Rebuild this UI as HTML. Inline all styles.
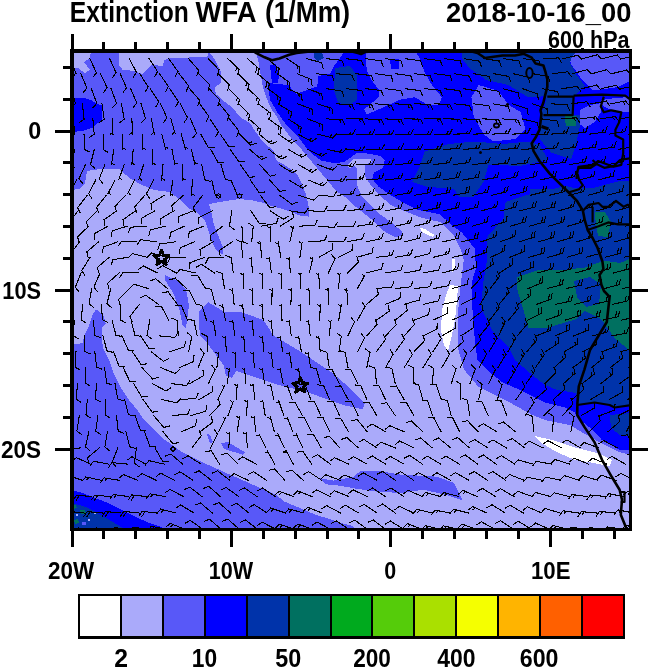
<!DOCTYPE html>
<html><head><meta charset="utf-8"><style>
html,body{margin:0;padding:0;background:#fff;}
svg{display:block;}
text{font-family:"Liberation Sans",Arial,Helvetica,sans-serif;fill:#000;}
.t{font-size:30.2px;font-weight:bold;}
.ax{font-size:22px;font-weight:bold;text-anchor:middle;}
.ay{font-size:22px;font-weight:bold;text-anchor:end;}
.cbl{font-size:21px;font-weight:bold;text-anchor:middle;}
</style></head><body>
<svg width="650" height="667" viewBox="0 0 650 667" shape-rendering="crispEdges">
<defs><clipPath id="mc"><rect x="72.0" y="51.0" width="558.5" height="478.5"/></clipPath></defs>
<g clip-path="url(#mc)">
<rect x="72.0" y="51.0" width="558.5" height="478.5" fill="#AAAAFA"/>
<polygon points="71.0,50.0 208.0,50.0 209.0,51.5 215.0,60.0 221.0,72.5 221.5,82.6 214.6,87.2 215.8,94.0 223.8,101.0 233.0,108.0 240.0,117.0 250.0,123.0 255.0,131.0 263.0,142.0 274.0,151.0 276.0,160.0 287.7,167.0 297.0,174.0 301.5,183.0 306.0,194.6 308.5,206.0 308.5,216.5 299.0,215.4 292.3,212.0 280.8,208.5 271.5,206.0 262.3,202.7 253.0,200.4 239.0,199.0 230.0,200.4 216.0,202.7 209.0,204.0 211.5,213.0 213.8,224.6 218.5,236.0 223.0,247.7 223.0,254.6 216.0,250.0 211.5,240.8 208.0,229.0 204.6,220.0 197.7,213.0 188.5,208.5 179.0,199.0 170.0,192.0 153.7,190.0 140.0,184.0 129.0,177.8 119.0,168.5 100.0,169.0 87.0,171.0 85.0,183.0 80.0,189.0 71.0,190.0" fill="#5858F8"/>
<polygon points="71.0,50.0 91.0,50.0 90.0,58.0 84.0,62.0 90.0,70.0 85.0,73.0 78.0,68.0 71.0,68.0" fill="#AAAAFA"/>
<polygon points="119.0,50.0 210.0,50.0 207.0,57.0 171.0,58.0 164.0,60.0 163.0,66.0 152.0,65.0 142.3,74.0 134.6,71.0 122.3,69.5 119.0,65.0" fill="#AAAAFA"/>
<polygon points="256.0,50.0 256.0,51.5 258.5,61.8 260.8,75.7 263.0,87.2 267.7,101.0 272.3,110.3 277.0,117.0 281.0,125.5 285.0,130.0 292.3,139.8 299.7,147.2 305.8,154.6 312.0,162.0 318.2,169.4 324.3,176.8 330.5,184.2 336.6,191.5 347.7,198.8 355.4,206.5 363.0,212.7 370.8,218.8 378.5,226.5 386.0,232.7 395.4,237.3 401.5,235.8 401.5,231.0 390.8,222.0 380.0,214.2 370.8,205.0 361.5,195.8 357.0,185.0 357.0,168.0 353.8,166.0 349.0,168.5 347.5,165.5 353.8,158.8 370.8,158.8 372.0,162.0 364.6,165.0 364.6,175.8 370.8,185.0 380.0,195.8 390.8,205.0 404.6,211.0 420.0,217.3 432.3,220.4 440.0,222.0 454.0,236.0 461.0,250.0 463.8,260.0 461.2,280.0 458.4,308.0 458.4,350.0 464.0,369.6 478.0,386.4 506.0,400.4 532.3,415.0 544.8,420.0 569.7,425.0 582.2,432.4 599.6,442.4 619.6,452.3 632.0,455.0 632.0,50.0" fill="#5858F8"/>
<polygon points="71.0,345.0 82.6,343.0 84.7,334.6 89.0,326.0 93.0,313.6 96.3,309.4 103.6,315.7 105.7,324.0 101.5,328.3 101.5,338.8 103.6,349.3 110.0,362.0 114.0,374.5 120.4,387.0 128.8,399.7 137.2,410.0 143.5,419.0 150.0,425.5 162.6,438.2 182.0,452.0 204.2,463.0 229.0,474.2 254.0,485.2 276.2,495.0 284.3,501.5 299.0,507.7 313.8,514.0 328.6,518.8 343.4,523.7 353.0,526.0 357.0,531.0 71.0,531.0" fill="#5858F8"/>
<polygon points="165.0,275.0 176.0,280.0 186.0,289.0 189.0,305.5 186.0,328.0 182.6,325.0 179.4,309.0 173.0,292.6 165.0,280.0" fill="#5858F8"/>
<polygon points="198.8,312.0 208.5,302.3 224.6,312.0 240.8,312.0 263.4,320.0 273.2,335.2 286.3,343.0 299.4,351.0 315.0,361.4 330.8,371.8 346.4,385.0 357.0,395.4 364.7,403.2 363.0,408.5 359.5,408.5 346.4,405.8 330.8,400.6 312.4,394.0 299.4,390.0 278.5,385.0 262.8,379.7 247.0,374.5 236.0,371.0 232.0,378.0 226.0,376.0 223.5,365.0 213.0,351.0 205.2,340.5 200.0,335.2 198.8,321.7" fill="#5858F8"/>
<polygon points="207.0,434.0 210.0,435.0 213.0,442.0 210.0,443.0" fill="#5858F8"/>
<polygon points="221.0,443.0 228.0,442.0 236.0,447.0 245.0,452.0 243.0,455.0 234.0,452.0 224.0,449.0" fill="#5858F8"/>
<polygon points="318.8,478.0 333.5,480.6 353.2,477.0 360.6,470.8 377.8,470.8 400.0,474.5 437.0,476.7 454.0,483.0 463.0,500.6 450.0,496.0 424.0,489.7 400.0,493.0 377.8,491.7 358.0,489.0 338.5,485.5 326.0,484.3" fill="#5858F8"/>
<polygon points="268.0,83.0 288.6,85.0 296.0,94.0 310.8,88.6 318.0,84.0 317.0,72.0 335.0,62.0 342.0,50.0 632.0,50.0 632.0,449.8 619.6,449.8 602.0,440.0 589.6,427.4 579.7,419.8 574.7,412.3 564.7,407.4 544.8,402.4 534.8,397.4 520.0,390.0 502.4,382.4 490.0,372.5 477.5,360.0 475.2,344.4 472.4,308.0 472.4,280.0 476.0,268.0 474.6,248.5 462.3,233.0 450.0,223.8 440.0,214.2 432.3,212.7 417.0,209.6 404.6,203.5 389.2,194.2 378.5,186.5 372.3,178.8 373.8,172.7 383.0,168.0 384.6,160.4 380.0,155.8 363.0,152.7 356.3,153.4 351.4,157.0 344.0,162.0 335.4,163.2 321.8,160.8 314.5,155.8 305.8,147.2 298.5,137.4 291.0,130.0 286.8,125.5 277.5,112.6 270.0,99.7" fill="#0000FF"/>
<polygon points="270.0,65.0 276.0,64.0 279.0,75.0 278.0,83.0 272.0,83.0" fill="#0000FF"/>
<polygon points="71.0,97.7 84.0,97.7 90.8,100.0 95.4,103.0 101.5,105.4 102.3,111.5 101.5,120.8 97.0,123.8 92.3,127.7 83.0,130.8 71.0,132.3" fill="#0000FF"/>
<polygon points="366.0,50.0 415.0,50.0 422.0,62.8 424.6,72.6 432.0,85.0 441.8,97.2 439.4,104.6 427.0,104.6 414.8,97.2 400.0,99.7 384.0,107.0 366.6,114.5 364.0,109.5 379.0,97.0 379.0,90.0 371.5,80.0 366.6,70.0" fill="#5858F8"/>
<polygon points="310.0,50.0 345.0,50.0 340.0,58.0 334.0,66.0 330.0,74.0 318.0,76.0 317.0,87.0 310.0,88.0" fill="#5858F8"/>
<polygon points="314.0,53.0 322.0,52.0 324.0,58.0 318.0,61.0 314.0,58.0" fill="#0033AA"/>
<polygon points="569.0,52.0 632.0,52.0 632.0,82.0 627.0,82.5 617.8,87.2 592.8,90.4 581.8,79.4 570.8,63.7 569.0,56.0" fill="#5858F8"/>
<polygon points="478.8,85.0 498.5,91.0 508.3,104.6 520.6,112.0 525.5,129.2 515.7,139.0 493.5,141.5 483.7,134.2 473.8,117.0 471.4,97.2" fill="#5858F8"/>
<polygon points="579.5,110.0 590.0,104.9 602.6,103.0 601.0,112.0 595.0,122.0 585.0,128.0 579.5,124.0" fill="#5858F8"/>
<polygon points="601.0,100.0 615.0,98.0 632.0,97.0 632.0,111.5 615.0,111.5 603.0,106.0" fill="#5858F8"/>
<polygon points="390.0,59.0 398.5,58.6 398.5,68.5 391.0,68.5" fill="#0000FF"/>
<polygon points="335.0,68.0 350.0,66.0 357.0,75.0 357.0,100.0 350.0,105.0 338.0,103.0 334.0,90.0" fill="#0033AA"/>
<polygon points="461.5,50.0 548.0,50.0 548.0,63.0 545.0,70.0 548.0,80.0 548.0,95.0 538.0,97.2 528.0,97.2 508.3,85.0 486.0,80.0 469.0,67.7 461.5,58.0" fill="#0033AA"/>
<polygon points="546.5,95.0 573.6,95.0 573.6,114.8 579.5,114.8 579.5,128.0 576.0,144.5 571.0,159.3 551.5,152.7 540.0,139.5 540.0,114.8 545.0,105.0" fill="#0033AA"/>
<polygon points="546.0,50.0 578.0,50.0 572.0,56.0 570.0,63.0 577.0,75.4 585.0,86.0 575.0,95.0 546.0,95.0" fill="#0033AA"/>
<polygon points="530.0,189.0 632.0,187.0 632.0,200.0 530.0,200.0" fill="#0033AA"/>
<polygon points="424.6,151.4 449.0,144.0 473.8,141.5 503.4,144.0 528.0,141.5 540.0,145.0 548.0,160.0 520.0,166.0 488.5,164.6 483.5,182.0 473.7,196.6 459.0,196.6 454.0,189.0 427.0,186.8 412.0,182.0 419.5,167.0" fill="#0033AA"/>
<polygon points="487.0,237.2 503.4,218.5 505.7,202.0 526.8,195.0 550.0,190.4 564.0,185.7 585.0,190.4 601.6,185.7 620.3,181.0 632.0,181.0 632.0,405.0 614.6,407.5 609.6,405.0 594.6,402.5 577.2,405.0 576.0,393.0 557.2,390.0 544.8,385.0 532.3,375.0 514.9,360.0 508.8,347.2 492.0,330.4 480.8,308.0 483.6,280.0 487.0,260.0" fill="#0033AA"/>
<polygon points="609.6,415.0 632.0,413.0 632.0,437.0 620.0,435.0 611.0,428.0" fill="#0033AA"/>
<polygon points="517.4,277.0 538.5,270.0 562.0,270.0 585.0,267.6 604.0,260.6 620.3,263.0 632.0,258.0 632.0,350.0 629.2,350.0 615.2,338.8 601.2,319.2 584.4,310.8 576.0,319.2 548.0,327.6 528.4,327.6 522.8,308.0 517.4,290.0" fill="#007060"/>
<polygon points="574.0,281.0 590.0,277.0 601.0,284.0 599.0,304.0 586.0,307.0 577.0,297.0" fill="#0033AA"/>
<polygon points="564.6,116.4 576.0,116.4 576.0,126.3 566.0,126.0" fill="#007060"/>
<polygon points="594.6,211.5 605.0,212.0 611.0,222.0 608.0,237.0 598.0,236.0 596.0,225.0" fill="#007060"/>
<polygon points="419.5,227.4 425.0,229.0 434.3,235.0 433.0,237.2 422.0,232.0" fill="#FFFFFF"/>
<polygon points="452.0,259.0 455.0,259.0 455.0,270.0 452.0,272.0" fill="#FFFFFF"/>
<polygon points="450.0,285.0 458.0,286.0 457.0,300.0 455.0,320.0 452.0,335.0 448.0,351.0 444.0,345.0 441.0,330.0 442.0,310.0 446.0,295.0" fill="#FFFFFF"/>
<polygon points="534.8,436.0 552.3,440.0 574.7,447.4 599.6,453.6 612.0,459.8 609.6,466.0 589.6,462.3 574.7,459.8 557.2,452.3 542.3,443.6" fill="#FFFFFF"/>
<polygon points="71.0,490.5 81.0,492.3 92.2,497.0 107.0,502.5 118.0,508.0 129.0,513.5 140.0,519.0 151.2,523.7 162.3,527.4 168.0,531.0 71.0,531.0" fill="#0000FF"/>
<polygon points="71.0,502.5 88.5,508.0 101.4,515.4 114.3,522.8 123.5,528.3 125.0,531.0 71.0,531.0" fill="#0033AA"/>
<polygon points="72.0,505.0 76.0,505.0 77.0,508.0 72.0,509.0" fill="#007060"/>
<polygon points="80.0,510.0 85.0,510.0 86.0,513.0 81.0,514.0" fill="#007060"/>
<polygon points="74.0,520.0 78.0,519.0 79.0,523.0 75.0,524.0" fill="#007060"/>
<polygon points="76.0,514.0 78.0,514.0 78.0,516.0 76.0,516.0" fill="#AAAAFA"/>
<polygon points="88.0,519.0 90.0,519.0 90.0,521.0 88.0,521.0" fill="#AAAAFA"/>
<polygon points="94.0,512.0 95.5,512.0 95.5,513.5 94.0,513.5" fill="#AAAAFA"/>
<polygon points="82.0,522.0 86.0,522.0 86.0,525.0 82.0,525.0" fill="#5858F8"/>
<g shape-rendering="auto"><path d="M254.8 52.4 L264.6 57.3 L272.0 60.3 L279.4 58.5 L289.2 54.8 L296.6 52.9 L310.0 51.5 M352.0 51.5 L358.0 53.0 L361.0 54.0 L365.0 52.0 L372.0 51.5 M470.0 51.0 L477.5 53.0 L485.0 58.0 L502.4 55.5 L515.0 55.5 L523.9 53.8 L531.7 57.7 L535.6 63.6 L543.4 65.5 L545.3 71.4 L547.3 79.2 L547.3 87.0 L545.3 94.7 L543.4 102.5 L540.5 110.3 L541.4 114.2 L540.5 122.0 L539.5 129.8 L535.6 137.6 L531.7 143.4 L533.6 151.2 L539.5 161.0 L549.7 173.6 L559.5 183.4 L569.2 193.0 L577.0 201.0 L582.9 210.7 L584.8 220.4 L587.8 230.2 L592.6 238.0 L597.5 247.7 L602.4 261.4 L603.4 269.2 L599.5 275.0 L601.4 284.8 L604.0 291.0 L609.6 296.8 L606.8 322.0 L598.4 336.0 L590.0 350.0 L584.4 369.6 L578.8 386.4 L577.4 403.2 L577.2 415.0 L584.7 427.4 L594.6 442.4 L602.0 459.8 L612.0 477.3 L619.6 489.7 L622.0 499.7 L620.8 514.7 L625.8 527.0 L627.0 531.0" stroke="#000" stroke-width="2.6" fill="none" stroke-linejoin="round"/><path d="M547.3 96.7 L573.6 96.7 L572.6 115.2 L543.4 115.2 M573.6 95.7 L601.8 94.7 L625.2 95.7 L629.0 98.6 L632.0 98.0 M603.8 96.7 L600.8 106.4 L603.8 112.3 L611.5 110.3 L621.3 112.3 L619.3 122.0 L615.4 129.8 L615.4 135.6 L623.2 139.5 L623.2 153.2 L621.3 164.9 L613.5 166.8 L598.0 161.0 L594.0 164.9 L578.4 166.8 L576.5 178.0 L577.0 171.7 L579.0 179.5 L582.9 185.3 L579.0 189.2 L569.2 192.2 M592.6 160.0 L596.5 164.0 L590.7 167.8 L579.0 167.8 L577.0 171.7 M596.5 164.0 L604.3 167.8 L614.0 165.8 L620.0 160.0 L632.0 158.0 M582.9 210.7 L588.7 204.8 L598.5 203.0 L602.4 206.8 L608.2 206.8 L616.0 201.0 L623.8 206.8 L627.7 204.8 L632.0 206.0 M586.8 230.2 L598.5 226.3 L608.2 222.4 L618.0 224.3 L632.0 224.3 M592.6 206.8 L592.6 222.4 M577.2 405.0 L594.6 402.5 L609.6 405.0 L614.6 407.5 L632.0 405.0 M620.8 492.0 L624.5 492.0 L624.5 502.0 L620.8 502.0" stroke="#000" stroke-width="2.2" fill="none" stroke-linejoin="round"/><ellipse cx="529.5" cy="73" rx="3.2" ry="5" fill="none" stroke="#000" stroke-width="2"/><ellipse cx="507.5" cy="104.5" rx="1.6" ry="1.6" fill="#000"/><ellipse cx="496.5" cy="125.5" rx="2.6" ry="2" fill="none" stroke="#000" stroke-width="1.8"/><ellipse cx="480.5" cy="152.5" rx="1.4" ry="1.6" fill="#000"/><path d="M541.5 126.5 L548.5 129" stroke="#000" stroke-width="3"/></g>
<g shape-rendering="crispEdges"><path d="M50.6 58.7L54.9 73.6M54.9 73.6l-4.0 3.9M70.3 58.7L75.9 73.2M75.9 73.2l-3.7 4.2M90.0 58.7L96.4 72.8M96.4 72.8l-3.4 4.4M109.7 58.7L116.1 72.8M116.1 72.8l-3.4 4.4M129.4 58.7L136.5 72.5M136.5 72.5l-3.2 4.6M149.1 58.7L157.6 71.6M157.6 71.6l-2.7 4.9M168.8 58.7L177.8 71.4M177.8 71.4l-2.5 5.0M188.5 58.7L198.8 70.3M198.8 70.3l-1.9 5.3M208.2 58.7L219.0 69.8M219.0 69.8l-1.7 5.3M227.9 58.7L239.0 69.5M239.0 69.5l-1.6 5.4M236.8 67.4l-0.8 2.9M247.6 58.7L259.2 68.9M259.2 68.9l-1.3 5.4M257.0 67.0l-1.3 5.4M267.3 58.7L279.2 68.7M279.2 68.7l-1.2 5.5M276.9 66.7l-1.2 5.5M287.0 58.7L299.9 67.2M299.9 67.2l-0.5 5.6M297.4 65.6l-0.3 3.0M306.7 58.7L321.7 62.7M321.7 62.7l1.3 5.5M326.4 58.7L341.8 60.3M341.8 60.3l2.1 5.2M346.1 58.7L361.5 60.5M361.5 60.5l2.0 5.2M365.8 58.7L381.1 60.9M381.1 60.9l1.9 5.3M385.5 58.7L400.9 60.8M400.9 60.8l1.9 5.3M405.2 58.7L420.6 60.8M420.6 60.8l1.9 5.3M424.9 58.7L440.3 60.7M440.3 60.7l2.0 5.2M444.6 58.7L460.0 60.8M460.0 60.8l1.9 5.3M464.3 58.7L479.6 61.2M479.6 61.2l1.8 5.3M484.0 58.7L499.3 61.1M499.3 61.1l1.8 5.3M503.7 58.7L519.0 61.0M519.0 61.0l1.9 5.3M523.4 58.7L538.8 60.5M538.8 60.5l2.0 5.2M543.1 58.7L558.6 57.9M558.6 57.9l2.9 4.8M562.8 58.7L577.9 55.2M577.9 55.2l3.7 4.2M582.5 58.7L597.5 54.7M597.5 54.7l3.8 4.1M602.2 58.7L617.2 55.0M617.2 55.0l3.7 4.2M621.9 58.7L637.0 55.3M637.0 55.3l3.6 4.3M641.6 58.7L656.8 55.6M656.8 55.6l3.6 4.3M61.2 73.7L65.6 88.6M65.6 88.6l-4.0 3.9M80.9 73.7L86.9 88.0M86.9 88.0l-3.5 4.4M100.5 73.7L107.1 87.7M107.1 87.7l-3.4 4.5M120.2 73.7L126.5 87.8M126.5 87.8l-3.4 4.4M139.8 73.7L148.1 86.8M148.1 86.8l-2.8 4.9M159.5 73.7L168.4 86.4M168.4 86.4l-2.5 5.0M179.1 73.7L188.7 85.9M188.7 85.9l-2.3 5.1M198.8 73.7L209.7 84.7M209.7 84.7l-1.6 5.4M218.4 73.7L229.3 84.7M229.3 84.7l-1.7 5.3M238.1 73.7L249.1 84.6M249.1 84.6l-1.6 5.4M246.9 82.5l-0.9 2.9M257.7 73.7L269.4 83.9M269.4 83.9l-1.3 5.5M267.1 81.9l-1.3 5.5M277.4 73.7L289.9 82.8M289.9 82.8l-0.8 5.5M287.5 81.1l-0.4 3.0M297.0 73.7L311.4 79.5M311.4 79.5l0.6 5.6M308.6 78.4l0.3 3.0M316.7 73.7L332.1 75.7M332.1 75.7l1.9 5.2M336.3 73.7L351.8 75.1M351.8 75.1l2.2 5.2M356.0 73.7L371.4 75.6M371.4 75.6l2.0 5.2M375.6 73.7L391.0 75.8M391.0 75.8l1.9 5.3M395.3 73.7L410.7 75.8M410.7 75.8l1.9 5.3M415.0 73.7L430.3 75.8M430.3 75.8l1.9 5.3M434.6 73.7L450.0 75.6M450.0 75.6l2.0 5.2M454.3 73.7L469.5 76.2M469.5 76.2l1.8 5.3M473.9 73.7L489.2 76.4M489.2 76.4l1.7 5.3M493.6 73.7L508.8 76.4M508.8 76.4l1.7 5.3M513.2 73.7L528.3 77.3M528.3 77.3l1.4 5.4M532.9 73.7L548.1 76.4M548.1 76.4l1.7 5.3M552.5 73.7L567.9 71.8M567.9 71.8l3.2 4.6M572.2 73.7L587.2 69.7M587.2 69.7l3.8 4.1M591.8 73.7L606.8 69.7M606.8 69.7l3.8 4.1M611.5 73.7L626.6 70.1M626.6 70.1l3.7 4.2M631.1 73.7L646.3 70.5M646.3 70.5l3.6 4.3M52.2 88.7L54.7 104.0M54.7 104.0l-4.5 3.4M71.8 88.7L75.5 103.8M75.5 103.8l-4.2 3.7M91.4 88.7L96.8 103.3M96.8 103.3l-3.7 4.2M111.1 88.7L116.5 103.2M116.5 103.2l-3.7 4.2M130.7 88.7L136.8 103.0M136.8 103.0l-3.5 4.4M150.3 88.7L158.7 101.7M158.7 101.7l-2.7 4.9M169.9 88.7L178.5 101.6M178.5 101.6l-2.6 4.9M189.5 88.7L199.8 100.3M199.8 100.3l-1.9 5.3M209.1 88.7L219.8 99.9M219.8 99.9l-1.7 5.3M228.7 88.7L239.6 99.7M239.6 99.7l-1.7 5.3M237.5 97.6l-0.9 2.9M248.3 88.7L259.4 99.5M259.4 99.5l-1.5 5.4M257.3 97.4l-0.8 2.9M267.9 88.7L280.4 97.9M280.4 97.9l-0.8 5.5M277.9 96.1l-0.4 3.0M287.5 88.7L301.7 94.9M301.7 94.9l0.4 5.6M298.9 93.7l0.2 3.0M307.1 88.7L321.7 93.9M321.7 93.9l0.8 5.5M318.9 92.9l0.5 3.0M326.7 88.7L342.0 91.2M342.0 91.2l1.8 5.3M346.3 88.7L361.7 90.5M361.7 90.5l2.0 5.2M365.9 88.7L381.3 90.5M381.3 90.5l2.0 5.2M385.5 88.7L400.9 90.6M400.9 90.6l2.0 5.2M405.1 88.7L420.5 90.6M420.5 90.6l2.0 5.2M424.7 88.7L440.1 90.2M440.1 90.2l2.1 5.2M444.3 88.7L459.7 90.7M459.7 90.7l2.0 5.2M463.9 88.7L479.2 91.3M479.2 91.3l1.8 5.3M483.5 88.7L498.8 91.3M498.8 91.3l1.8 5.3M503.1 88.7L518.1 92.9M518.1 92.9l1.2 5.5M522.7 88.7L537.4 93.8M537.4 93.8l0.9 5.5M542.3 88.7L557.6 91.6M557.6 91.6l1.7 5.3M561.9 88.7L577.3 86.4M577.3 86.4l3.3 4.5M581.5 88.7L596.6 85.1M596.6 85.1l3.7 4.2M601.1 88.7L616.2 85.3M616.2 85.3l3.7 4.2M620.7 88.7L635.9 85.6M635.9 85.6l3.6 4.3M640.3 88.7L655.5 85.6M655.5 85.6l3.6 4.3M652.6 86.2l1.9 2.3M43.3 103.8L44.3 119.3M44.3 119.3l-4.8 2.9M62.9 103.8L64.3 119.2M64.3 119.2l-4.7 3.1M82.4 103.8L84.1 119.2M84.1 119.2l-4.6 3.1M102.0 103.8L104.2 119.1M104.2 119.1l-4.5 3.3M121.5 103.8L124.2 119.1M124.2 119.1l-4.4 3.4M141.1 103.8L145.6 118.6M145.6 118.6l-4.0 3.9M160.6 103.8L167.0 117.9M167.0 117.9l-3.4 4.4M180.2 103.8L187.5 117.5M187.5 117.5l-3.1 4.7M199.7 103.8L208.9 116.3M208.9 116.3l-2.4 5.0M219.3 103.8L229.2 115.7M229.2 115.7l-2.1 5.2M238.9 103.8L249.8 114.7M249.8 114.7l-1.6 5.4M247.7 112.6l-0.9 2.9M258.4 103.8L270.7 113.3M270.7 113.3l-1.0 5.5M268.3 111.5l-0.5 3.0M278.0 103.8L291.2 111.9M291.2 111.9l-0.3 5.6M288.6 110.3l-0.2 3.0M297.5 103.8L312.1 109.2M312.1 109.2l0.8 5.5M309.3 108.1l0.4 3.0M317.1 103.8L331.9 108.3M331.9 108.3l1.1 5.5M329.0 107.4l0.6 2.9M336.6 103.8L352.1 104.8M352.1 104.8l2.3 5.1M349.1 104.6l1.2 2.7M356.2 103.8L371.7 104.8M371.7 104.8l2.3 5.1M368.7 104.6l1.2 2.7M375.7 103.8L391.2 105.2M391.2 105.2l2.2 5.2M388.2 104.9l1.2 2.8M395.3 103.8L410.8 104.9M410.8 104.9l2.3 5.1M407.8 104.7l1.2 2.7M414.9 103.8L430.3 104.4M430.3 104.4l2.4 5.0M427.3 104.3l1.3 2.7M434.4 103.8L449.9 104.5M449.9 104.5l2.4 5.1M446.9 104.4l1.3 2.7M454.0 103.8L469.4 105.4M469.4 105.4l2.1 5.2M473.5 103.8L488.9 105.8M488.9 105.8l2.0 5.2M493.1 103.8L508.3 106.5M508.3 106.5l1.7 5.3M512.6 103.8L527.3 108.9M527.3 108.9l0.8 5.5M532.2 103.8L546.9 108.7M546.9 108.7l0.9 5.5M551.7 103.8L567.2 105.0M567.2 105.0l2.3 5.1M571.3 103.8L586.7 101.8M586.7 101.8l3.3 4.6M590.9 103.8L606.1 101.1M606.1 101.1l3.5 4.4M610.4 103.8L625.6 101.0M625.6 101.0l3.5 4.4M622.7 101.5l1.9 2.3M630.0 103.8L645.2 100.9M645.2 100.9l3.5 4.4M642.2 101.4l1.9 2.3M649.5 103.8L664.7 100.7M664.7 100.7l3.6 4.3M661.8 101.3l1.9 2.3M53.9 118.9L54.3 134.4M54.3 134.4l-4.9 2.8M73.4 118.9L74.6 134.4M74.6 134.4l-4.7 3.0M92.9 118.9L94.2 134.4M94.2 134.4l-4.7 3.0M112.4 118.9L113.0 134.4M112.9 132.6l-2.6 1.5M131.9 118.9L132.4 134.4M132.4 132.6l-2.6 1.5M151.4 118.9L154.2 134.2M153.9 132.4l-2.4 1.9M170.9 118.9L175.2 133.8M174.7 132.1l-2.2 2.1M190.4 118.9L196.6 133.2M196.6 133.2l-3.5 4.4M209.9 118.9L218.5 131.8M218.5 131.8l-2.7 4.9M229.4 118.9L239.1 131.1M239.1 131.1l-2.2 5.1M249.0 118.9L260.6 129.2M260.6 129.2l-1.3 5.5M258.3 127.2l-0.7 2.9M268.5 118.9L281.1 127.9M281.1 127.9l-0.7 5.6M278.7 126.1l-0.4 3.0M288.0 118.9L301.1 127.2M301.1 127.2l-0.4 5.6M298.5 125.6l-0.2 3.0M307.5 118.9L322.0 124.4M322.0 124.4l0.7 5.6M319.2 123.3l0.4 3.0M327.0 118.9L342.5 119.7M342.5 119.7l2.4 5.1M339.5 119.6l1.3 2.7M346.5 118.9L362.0 119.0M362.0 119.0l2.6 5.0M359.0 119.0l1.4 2.7M366.0 118.9L381.5 119.7M381.5 119.7l2.4 5.1M378.5 119.6l1.3 2.7M385.5 118.9L401.0 119.6M401.0 119.6l2.4 5.1M398.0 119.5l1.3 2.7M405.0 118.9L420.5 119.1M420.5 119.1l2.6 5.0M417.5 119.0l1.4 2.7M424.5 118.9L440.0 119.0M440.0 119.0l2.6 4.9M437.0 119.0l1.4 2.7M444.0 118.9L459.5 119.1M459.5 119.1l2.6 5.0M456.5 119.1l1.4 2.7M463.5 118.9L479.0 119.5M479.0 119.5l2.4 5.0M476.0 119.4l1.3 2.7M483.0 118.9L498.5 119.4M498.5 119.4l2.5 5.0M495.5 119.3l1.3 2.7M502.5 118.9L518.0 120.1M518.0 120.1l2.2 5.1M515.0 119.9l1.2 2.7M522.0 118.9L537.1 122.5M537.1 122.5l1.4 5.4M541.6 118.9L556.9 120.9M556.9 120.9l2.0 5.2M561.1 118.9L576.5 117.7M576.5 117.7l3.0 4.7M573.5 117.9l1.6 2.5M580.6 118.9L595.9 116.8M595.9 116.8l3.3 4.5M593.0 117.2l1.8 2.4M600.1 118.9L615.4 116.6M615.4 116.6l3.3 4.5M612.4 117.1l1.8 2.4M619.6 118.9L634.9 116.3M634.9 116.3l3.4 4.4M631.9 116.8l1.8 2.4M639.1 118.9L654.3 115.9M654.3 115.9l3.5 4.3M651.4 116.5l1.9 2.3M45.0 134.1L43.5 149.6M43.5 149.6l4.7 3.1M64.5 134.1L64.2 149.6M64.2 149.6l4.9 2.7M84.0 134.1L84.7 149.6M84.7 149.6l5.1 2.4M103.4 134.1L103.1 149.6M103.1 149.6l4.9 2.7M122.9 134.1L122.8 149.6M122.8 147.8l2.6 1.4M142.3 134.1L142.6 149.6M142.5 147.8l2.7 1.4M161.8 134.1L165.5 149.2M165.1 147.4l2.9 0.7M181.3 134.1L185.3 149.1M184.8 147.4l2.9 0.7M200.7 134.1L208.4 147.6M208.4 147.6l5.6 -0.2M220.2 134.1L229.0 146.8M229.0 146.8l5.6 -0.7M239.6 134.1L250.7 145.0M250.7 145.0l5.3 -1.7M248.5 142.9l2.9 -0.9M259.1 134.1L271.0 144.0M271.0 144.0l5.2 -2.1M268.7 142.1l2.8 -1.1M278.5 134.1L291.3 143.0M291.3 143.0l5.0 -2.6M288.8 141.2l2.7 -1.4M298.0 134.1L311.6 141.6M311.6 141.6l4.7 -3.1M309.0 140.1l2.5 -1.6M317.5 134.1L332.5 138.0M332.5 138.0l3.8 -4.1M329.6 137.2l2.0 -2.2M336.9 134.1L352.4 134.7M352.4 134.7l2.8 -4.8M349.4 134.6l1.5 -2.6M356.4 134.1L371.9 134.7M371.9 134.7l2.8 -4.8M368.9 134.6l1.5 -2.6M375.8 134.1L391.3 134.7M391.3 134.7l2.8 -4.8M388.3 134.6l1.5 -2.6M395.3 134.1L410.8 134.2M410.8 134.2l2.6 -4.9M407.8 134.2l1.4 -2.6M414.8 134.1L430.3 134.1M430.3 134.1l2.6 -4.9M427.3 134.1l1.4 -2.6M434.2 134.1L449.7 134.1M449.7 134.1l2.6 -5.0M446.7 134.1l1.4 -2.7M453.7 134.1L469.2 133.8M469.2 133.8l2.5 -5.0M466.2 133.9l1.4 -2.7M473.1 134.1L488.6 133.7M488.6 133.7l2.5 -5.0M485.6 133.8l1.3 -2.7M492.6 134.1L508.1 133.4M508.1 133.4l2.4 -5.1M505.1 133.5l1.3 -2.7M512.1 134.1L527.5 133.6M527.5 133.6l2.5 -5.0M524.5 133.7l1.3 -2.7M531.5 134.1L547.0 134.5M547.0 134.5l2.7 -4.9M544.0 134.4l1.5 -2.6M551.0 134.1L566.4 132.9M566.4 132.9l2.2 -5.1M563.4 133.1l1.2 -2.8M570.4 134.1L585.8 132.0M585.8 132.0l1.9 -5.3M582.8 132.4l1.0 -2.8M589.9 134.1L605.2 132.0M605.2 132.0l1.9 -5.3M602.3 132.4l1.0 -2.8M609.3 134.1L624.7 131.7M624.7 131.7l1.8 -5.3M621.7 132.2l1.0 -2.8M628.8 134.1L644.0 131.2M644.0 131.2l1.7 -5.3M641.1 131.8l0.9 -2.9M648.3 134.1L663.4 130.8M663.4 130.8l1.5 -5.4M660.5 131.5l0.8 -2.9M55.5 149.4L51.8 164.4M51.8 164.4l4.2 3.7M74.9 149.4L70.9 164.3M70.9 164.3l4.1 3.8M94.3 149.4L90.5 164.4M90.5 164.4l4.1 3.8M113.8 149.4L111.5 164.7M111.8 162.9l2.4 1.8M133.2 149.4L131.8 164.8M132.0 163.0l2.5 1.6M152.6 149.4L152.8 164.9M152.8 163.1l2.7 1.4M172.0 149.4L174.9 164.6M174.6 162.8l2.9 0.9M191.4 149.4L194.9 164.5M194.5 162.7l2.9 0.8M210.8 149.4L218.3 162.9M218.3 162.9l5.6 -0.1M230.2 149.4L239.2 162.0M239.2 162.0l5.6 -0.7M249.6 149.4L261.4 159.4M261.4 159.4l5.2 -2.1M259.1 157.5l2.8 -1.1M269.0 149.4L281.2 159.0M281.2 159.0l5.1 -2.3M278.9 157.1l2.7 -1.2M288.4 149.4L301.8 157.2M301.8 157.2l4.8 -2.9M299.2 155.7l2.6 -1.6M307.9 149.4L321.7 156.4M321.7 156.4l4.6 -3.2M319.0 155.0l2.5 -1.7M327.3 149.4L342.4 152.8M342.4 152.8l3.6 -4.2M339.5 152.1l2.0 -2.3M346.7 149.4L362.1 150.6M362.1 150.6l3.0 -4.7M359.1 150.4l1.6 -2.5M366.1 149.4L381.6 149.8M381.6 149.8l2.8 -4.9M378.6 149.7l1.5 -2.6M385.5 149.4L401.0 149.1M401.0 149.1l2.6 -5.0M398.0 149.2l1.4 -2.7M404.9 149.4L420.4 149.0M420.4 149.0l2.5 -5.0M417.4 149.1l1.3 -2.7M424.3 149.4L439.8 149.0M439.8 149.0l2.5 -5.0M436.8 149.1l1.3 -2.7M443.7 149.4L459.2 148.5M459.2 148.5l2.3 -5.1M456.2 148.7l1.3 -2.7M463.1 149.4L478.6 148.3M478.6 148.3l2.3 -5.1M475.6 148.5l1.2 -2.7M482.6 149.4L498.0 148.5M498.0 148.5l2.3 -5.1M495.0 148.7l1.3 -2.7M502.0 149.4L517.4 148.5M517.4 148.5l2.4 -5.1M514.4 148.7l1.3 -2.7M521.4 149.4L536.8 148.5M536.8 148.5l2.3 -5.1M533.9 148.6l1.3 -2.7M540.8 149.4L556.2 147.9M556.2 147.9l2.2 -5.2M553.2 148.2l1.2 -2.8M560.2 149.4L575.5 147.2M575.5 147.2l1.9 -5.3M572.6 147.6l1.0 -2.8M579.6 149.4L595.0 147.2M595.0 147.2l1.9 -5.3M592.0 147.6l1.0 -2.8M599.0 149.4L614.3 147.0M614.3 147.0l1.8 -5.3M611.4 147.5l1.0 -2.8M618.4 149.4L633.7 146.5M633.7 146.5l1.7 -5.3M630.7 147.0l0.9 -2.9M637.8 149.4L653.0 146.0M653.0 146.0l1.5 -5.4M650.0 146.7l0.8 -2.9M46.8 164.6L41.4 179.2M41.4 179.2l3.7 4.2M66.1 164.6L60.0 178.9M60.0 178.9l3.5 4.4M85.5 164.6L79.0 178.7M79.0 178.7l3.4 4.5M104.9 164.6L99.1 179.0M99.1 179.0l3.6 4.3M124.2 164.6L118.9 179.2M119.6 177.5l2.0 2.2M143.6 164.6L138.9 179.4M139.4 177.7l2.1 2.1M163.0 164.6L161.6 180.1M161.8 178.3l2.5 1.6M182.3 164.6L182.3 180.1M182.3 178.3l2.6 1.4M201.7 164.6L204.8 179.8M204.8 179.8l5.4 1.6M221.0 164.6L225.4 179.5M225.4 179.5l5.5 1.1M240.4 164.6L249.3 177.4M249.3 177.4l5.6 -0.7M259.8 164.6L270.1 176.2M270.1 176.2l5.4 -1.4M279.1 164.6L292.3 172.8M292.3 172.8l4.8 -2.8M289.7 171.2l2.6 -1.5M298.5 164.6L311.9 172.4M311.9 172.4l4.7 -3.0M309.3 170.9l2.5 -1.6M317.9 164.6L332.3 170.2M332.3 170.2l4.2 -3.7M329.5 169.1l2.3 -2.0M337.2 164.6L352.6 166.3M352.6 166.3l3.2 -4.6M349.6 166.0l1.7 -2.5M356.6 164.6L372.1 164.7M372.1 164.7l2.6 -4.9M369.1 164.7l1.4 -2.6M375.9 164.6L391.4 164.0M391.4 164.0l2.4 -5.1M388.4 164.1l1.3 -2.7M395.3 164.6L410.7 163.4M410.7 163.4l2.2 -5.1M407.8 163.6l1.2 -2.8M414.7 164.6L430.1 162.9M430.1 162.9l2.1 -5.2M427.1 163.3l1.1 -2.8M434.0 164.6L449.4 162.6M449.4 162.6l2.0 -5.2M446.4 163.0l1.0 -2.8M453.4 164.6L468.8 162.6M468.8 162.6l2.0 -5.2M465.8 163.0l1.1 -2.8M472.7 164.6L488.1 162.9M488.1 162.9l2.1 -5.2M485.2 163.2l1.1 -2.8M492.1 164.6L507.5 163.2M507.5 163.2l2.2 -5.2M504.6 163.5l1.2 -2.8M511.5 164.6L526.9 162.9M526.9 162.9l2.1 -5.2M523.9 163.2l1.1 -2.8M530.8 164.6L546.2 162.3M546.2 162.3l1.9 -5.3M543.2 162.8l1.0 -2.8M550.2 164.6L565.5 162.1M565.5 162.1l1.8 -5.3M562.5 162.6l1.0 -2.8M569.6 164.6L584.8 162.1M584.8 162.1l1.8 -5.3M581.9 162.6l1.0 -2.8M588.9 164.6L604.2 161.9M604.2 161.9l1.7 -5.3M601.2 162.4l0.9 -2.9M608.3 164.6L623.4 161.4M623.4 161.4l1.5 -5.4M620.5 162.0l0.8 -2.9M627.6 164.6L642.7 161.1M642.7 161.1l1.4 -5.4M639.8 161.8l0.8 -2.9M647.0 164.6L662.0 160.9M662.0 160.9l1.4 -5.4M659.1 161.6l0.7 -2.9M57.2 180.0L50.3 193.8M50.3 193.8l3.3 4.6M76.5 180.0L69.4 193.8M69.4 193.8l3.2 4.6M95.8 180.0L88.6 193.7M88.6 193.7l3.1 4.6M115.1 180.0L107.9 193.7M108.8 192.1l1.7 2.5M134.4 180.0L127.7 193.9M128.5 192.3l1.8 2.4M153.7 180.0L146.5 193.6M146.5 193.6l3.1 4.6M173.0 180.0L170.2 195.2M170.5 193.4l2.3 1.9M192.4 180.0L191.4 195.4M191.5 193.6l2.6 1.6M211.7 180.0L215.3 195.0M215.3 195.0l5.4 1.4M231.0 180.0L237.0 194.3M237.0 194.3l5.6 0.5M250.3 180.0L259.2 192.7M259.2 192.7l5.6 -0.7M269.6 180.0L280.0 191.5M280.0 191.5l5.4 -1.4M288.9 180.0L302.2 188.0M302.2 188.0l4.8 -2.9M299.6 186.4l2.6 -1.5M308.2 180.0L322.6 185.8M322.6 185.8l4.3 -3.6M319.8 184.7l2.3 -1.9M327.6 180.0L343.0 181.2M343.0 181.2l3.0 -4.7M340.0 181.0l1.6 -2.5M346.9 180.0L362.3 178.9M362.3 178.9l2.3 -5.1M359.3 179.1l1.2 -2.7M366.2 180.0L381.6 178.7M381.6 178.7l2.2 -5.1M378.6 178.9l1.2 -2.8M385.5 180.0L400.9 178.2M400.9 178.2l2.1 -5.2M397.9 178.6l1.1 -2.8M404.8 180.0L420.1 177.6M420.1 177.6l1.8 -5.3M417.2 178.1l1.0 -2.8M424.1 180.0L439.4 177.3M439.4 177.3l1.7 -5.3M436.4 177.8l1.7 -5.3M443.4 180.0L458.7 177.3M458.7 177.3l1.7 -5.3M455.8 177.8l1.7 -5.3M462.8 180.0L478.0 177.3M478.0 177.3l1.7 -5.3M475.1 177.8l0.9 -2.9M482.1 180.0L497.3 177.3M497.3 177.3l1.7 -5.3M494.4 177.8l0.9 -2.9M501.4 180.0L516.6 176.9M516.6 176.9l1.6 -5.4M513.6 177.5l1.6 -5.4M520.7 180.0L535.8 176.5M535.8 176.5l1.5 -5.4M532.9 177.2l1.5 -5.4M540.0 180.0L555.1 176.6M555.1 176.6l1.5 -5.4M552.2 177.2l1.5 -5.4M559.3 180.0L574.5 176.7M574.5 176.7l1.5 -5.4M571.5 177.3l0.8 -2.9M578.6 180.0L593.7 176.4M593.7 176.4l1.4 -5.4M590.8 177.1l0.8 -2.9M598.0 180.0L613.0 176.1M613.0 176.1l1.3 -5.4M610.1 176.9l0.7 -2.9M617.3 180.0L632.3 176.1M632.3 176.1l1.3 -5.4M629.4 176.8l0.7 -2.9M636.6 180.0L651.6 176.0M651.6 176.0l1.3 -5.4M648.7 176.8l0.7 -2.9M48.5 195.3L41.0 208.9M41.0 208.9l3.1 4.7M67.8 195.3L59.3 208.3M59.3 208.3l2.7 4.9M87.1 195.3L77.7 207.7M77.7 207.7l2.4 5.1M106.3 195.3L96.6 207.4M96.6 207.4l2.2 5.2M125.6 195.3L114.9 206.5M114.9 206.5l1.7 5.3M144.8 195.3L134.6 206.9M134.6 206.9l2.0 5.2M164.1 195.3L151.0 203.5M151.0 203.5l0.4 5.6M183.4 195.3L171.7 205.6M171.7 205.6l1.3 5.4M202.6 195.3L193.2 207.6M193.2 207.6l2.3 5.1M260.4 195.3L269.8 207.7M269.8 207.7l5.5 -0.9M279.7 195.3L292.2 204.5M292.2 204.5l5.0 -2.4M299.0 195.3L313.7 200.1M313.7 200.1l4.0 -3.9M318.2 195.3L333.7 196.4M333.7 196.4l3.0 -4.8M337.5 195.3L352.9 193.9M352.9 193.9l2.2 -5.2M350.0 194.2l1.2 -2.8M356.8 195.3L372.2 193.7M372.2 193.7l2.1 -5.2M369.2 194.0l1.1 -2.8M376.0 195.3L391.4 193.5M391.4 193.5l2.0 -5.2M388.4 193.8l1.1 -2.8M395.3 195.3L410.6 192.8M410.6 192.8l1.8 -5.3M407.6 193.3l0.9 -2.8M414.6 195.3L429.8 192.6M429.8 192.6l1.7 -5.3M426.9 193.1l1.7 -5.3M433.8 195.3L449.1 192.6M449.1 192.6l1.7 -5.3M446.1 193.2l1.7 -5.3M453.1 195.3L468.3 192.4M468.3 192.4l1.6 -5.4M465.4 193.0l1.6 -5.4M472.4 195.3L487.5 192.0M487.5 192.0l1.5 -5.4M484.6 192.6l0.8 -2.9M491.6 195.3L506.7 191.8M506.7 191.8l1.4 -5.4M503.8 192.4l1.4 -5.4M510.9 195.3L525.9 191.6M525.9 191.6l1.4 -5.4M523.0 192.3l1.4 -5.4M530.2 195.3L545.2 191.6M545.2 191.6l1.4 -5.4M542.3 192.3l1.4 -5.4M549.4 195.3L564.5 191.6M564.5 191.6l1.4 -5.4M561.6 192.3l1.4 -5.4M568.7 195.3L583.7 191.5M583.7 191.5l1.3 -5.4M580.8 192.2l0.7 -2.9M588.0 195.3L602.9 191.3M602.9 191.3l1.3 -5.5M600.0 192.1l0.7 -2.9M607.2 195.3L622.2 191.3M622.2 191.3l1.3 -5.5M619.3 192.1l0.7 -2.9M626.5 195.3L641.5 191.3M641.5 191.3l1.3 -5.5M638.6 192.1l0.7 -2.9M645.8 195.3L660.7 191.2M660.7 191.2l1.2 -5.5M657.8 192.0l0.6 -2.9M58.8 210.8L50.4 223.8M50.4 223.8l2.7 4.9M78.0 210.8L68.7 223.1M68.7 223.1l2.4 5.1M97.2 210.8L86.3 221.7M86.3 221.7l1.6 5.4M116.5 210.8L104.0 219.9M104.0 219.9l0.8 5.5M135.7 210.8L123.0 219.7M123.0 219.7l0.7 5.6M154.9 210.8L141.4 218.3M141.4 218.3l0.1 5.6M174.1 210.8L160.7 218.6M160.7 218.6l0.2 5.6M193.3 210.8L178.9 216.5M178.9 216.5l-0.6 5.6M212.5 210.8L198.7 217.7M198.7 217.7l-0.2 5.6M231.8 210.8L229.5 226.1M229.5 226.1l4.5 3.3M251.0 210.8L259.5 223.7M259.5 223.7l5.6 -0.5M270.2 210.8L283.2 219.2M283.2 219.2l4.9 -2.7M289.4 210.8L304.7 213.1M304.7 213.1l3.3 -4.5M308.6 210.8L324.1 211.5M324.1 211.5l2.9 -4.8M327.8 210.8L343.3 210.7M343.3 210.7l2.6 -5.0M347.1 210.8L362.5 209.2M362.5 209.2l2.1 -5.2M359.5 209.5l1.1 -2.8M366.3 210.8L381.7 208.9M381.7 208.9l2.0 -5.2M378.7 209.2l1.1 -2.8M385.5 210.8L400.8 208.0M400.8 208.0l1.7 -5.3M397.8 208.5l0.9 -2.9M404.7 210.8L419.9 207.6M419.9 207.6l1.6 -5.4M417.0 208.2l0.8 -2.9M423.9 210.8L439.1 207.7M439.1 207.7l1.6 -5.4M436.2 208.3l1.6 -5.4M443.2 210.8L458.3 207.6M458.3 207.6l1.6 -5.4M455.4 208.2l1.6 -5.4M462.4 210.8L477.4 207.1M477.4 207.1l1.4 -5.4M474.5 207.8l0.7 -2.9M481.6 210.8L496.6 206.7M496.6 206.7l1.3 -5.5M493.7 207.5l0.7 -2.9M500.8 210.8L515.8 206.9M515.8 206.9l1.3 -5.4M512.9 207.6l1.3 -5.4M520.0 210.8L535.1 207.0M535.1 207.0l1.3 -5.4M532.1 207.7l1.3 -5.4M539.2 210.8L554.2 206.9M554.2 206.9l1.3 -5.4M551.3 207.6l1.3 -5.4M558.5 210.8L573.4 206.7M573.4 206.7l1.2 -5.5M570.5 207.5l0.7 -2.9M577.7 210.8L592.6 206.7M592.6 206.7l1.2 -5.5M589.7 207.5l0.7 -2.9M596.9 210.8L611.9 206.7M611.9 206.7l1.3 -5.5M609.0 207.5l0.7 -2.9M616.1 210.8L631.1 206.7M631.1 206.7l1.2 -5.5M628.2 207.5l0.7 -2.9M635.3 210.8L650.2 206.6M650.2 206.6l1.2 -5.5M647.4 207.4l0.6 -2.9M50.3 226.2L42.0 239.4M42.0 239.4l2.8 4.9M69.4 226.2L60.4 238.9M60.4 238.9l2.5 5.0M88.6 226.2L77.6 237.1M77.6 237.1l1.6 5.4M107.8 226.2L94.2 233.8M94.2 233.8l0.1 5.6M126.9 226.2L112.2 230.9M112.2 230.9l-1.0 5.5M146.1 226.2L130.6 227.2M130.6 227.2l-2.3 5.1M165.3 226.2L150.2 230.0M150.2 230.0l-1.3 5.4M184.4 226.2L170.3 232.6M170.3 232.6l-0.4 5.6M203.6 226.2L189.2 232.0M189.2 232.0l-0.6 5.6M222.8 226.2L210.3 235.5M210.3 235.5l0.8 5.5M241.9 226.2L242.9 241.7M242.9 241.7l5.1 2.3M261.1 226.2L276.4 223.4M276.4 223.4l1.7 -5.3M280.3 226.2L293.3 217.8M293.3 217.8l-0.5 -5.6M299.5 226.2L314.9 225.3M314.9 225.3l2.3 -5.1M318.6 226.2L334.1 227.5M334.1 227.5l3.0 -4.7M337.8 226.2L353.3 226.1M353.3 226.1l2.6 -5.0M357.0 226.2L372.3 224.0M372.3 224.0l1.9 -5.3M369.3 224.4l1.0 -2.8M376.1 226.2L391.3 223.3M391.3 223.3l1.6 -5.4M388.4 223.8l0.9 -2.9M395.3 226.2L410.4 222.8M410.4 222.8l1.5 -5.4M407.5 223.5l0.8 -2.9M414.5 226.2L429.5 222.6M429.5 222.6l1.4 -5.4M426.6 223.3l0.7 -2.9M433.6 226.2L448.7 222.6M448.7 222.6l1.4 -5.4M445.8 223.3l0.7 -2.9M452.8 226.2L467.9 222.5M467.9 222.5l1.4 -5.4M464.9 223.2l1.4 -5.4M472.0 226.2L486.9 222.0M486.9 222.0l1.2 -5.5M484.0 222.8l0.6 -2.9M491.1 226.2L506.0 221.7M506.0 221.7l1.1 -5.5M503.1 222.5l0.6 -2.9M510.3 226.2L525.2 221.9M525.2 221.9l1.2 -5.5M522.3 222.8l1.2 -5.5M529.5 226.2L544.4 222.0M544.4 222.0l1.2 -5.5M541.5 222.8l1.2 -5.5M548.7 226.2L563.5 221.9M563.5 221.9l1.2 -5.5M560.7 222.8l1.2 -5.5M567.8 226.2L582.7 221.9M582.7 221.9l1.1 -5.5M579.8 222.7l0.6 -2.9M587.0 226.2L601.9 222.0M601.9 222.0l1.2 -5.5M599.0 222.9l0.6 -2.9M606.2 226.2L621.1 222.1M621.1 222.1l1.2 -5.5M618.2 222.9l0.7 -2.9M625.3 226.2L640.2 222.0M640.2 222.0l1.2 -5.5M637.4 222.8l0.6 -2.9M644.5 226.2L659.4 221.9M659.4 221.9l1.1 -5.5M656.5 222.7l0.6 -2.9M60.4 241.8L52.0 254.7M52.0 254.7l2.7 4.9M79.6 241.8L70.2 254.1M70.2 254.1l2.4 5.1M98.7 241.8L86.9 251.8M86.9 251.8l1.2 5.5M117.8 241.8L103.3 247.1M103.3 247.1l-0.8 5.5M136.9 241.8L121.4 241.1M121.4 241.1l-2.8 4.8M156.1 241.8L140.7 239.7M140.7 239.7l-3.3 4.5M175.2 241.8L159.8 244.0M159.8 244.0l-1.9 5.3M194.3 241.8L180.1 247.9M180.1 247.9l-0.5 5.6M213.4 241.8L200.0 249.5M200.0 249.5l0.2 5.6M232.5 241.8L219.6 250.3M219.6 250.3l0.5 5.6M251.7 241.8L253.2 226.3M253.2 226.3l-4.7 -3.1M270.8 241.8L270.4 226.3M270.4 228.1l-2.7 -1.3M289.9 241.8L293.3 226.6M292.9 228.4l-2.3 -2.0M309.0 241.8L324.5 240.7M324.5 240.7l2.3 -5.1M328.1 241.8L343.6 241.9M343.6 241.9l2.7 -4.9M347.3 241.8L362.5 238.8M362.5 238.8l1.6 -5.4M366.4 241.8L381.6 238.7M381.6 238.7l1.6 -5.4M378.6 239.3l0.9 -2.9M385.5 241.8L400.8 239.1M400.8 239.1l1.8 -5.3M397.8 239.6l0.9 -2.8M404.6 241.8L419.7 238.2M419.7 238.2l1.4 -5.4M416.8 238.9l0.8 -2.9M423.7 241.8L438.8 237.9M438.8 237.9l1.3 -5.4M435.9 238.7l0.7 -2.9M442.9 241.8L458.0 238.4M458.0 238.4l1.5 -5.4M455.1 239.0l1.5 -5.4M462.0 241.8L477.1 238.2M477.1 238.2l1.4 -5.4M474.1 238.9l1.4 -5.4M481.1 241.8L495.8 236.8M495.8 236.8l0.9 -5.5M493.0 237.8l0.5 -3.0M500.2 241.8L514.8 236.4M514.8 236.4l0.8 -5.5M512.0 237.5l0.4 -3.0M519.3 241.8L534.1 237.1M534.1 237.1l1.0 -5.5M531.3 238.0l1.0 -5.5M538.5 241.8L553.4 237.5M553.4 237.5l1.2 -5.5M550.5 238.3l1.2 -5.5M557.6 241.8L572.5 237.4M572.5 237.4l1.1 -5.5M569.6 238.2l1.1 -5.5M576.7 241.8L591.6 237.4M591.6 237.4l1.1 -5.5M588.7 238.2l1.1 -5.5M595.8 241.8L610.8 237.6M610.8 237.6l1.2 -5.5M607.9 238.4l1.2 -5.5M614.9 241.8L629.9 237.6M629.9 237.6l1.2 -5.5M627.0 238.4l1.2 -5.5M634.1 241.8L649.0 237.5M649.0 237.5l1.2 -5.5M646.1 238.3l1.2 -5.5M52.0 257.3L43.9 270.5M43.9 270.5l2.8 4.8M71.1 257.3L63.2 270.7M63.2 270.7l2.9 4.8M90.1 257.3L81.8 270.4M81.8 270.4l2.8 4.9M109.2 257.3L97.4 267.4M97.4 267.4l1.2 5.5M128.3 257.3L113.0 259.6M113.0 259.6l-1.9 5.3M147.4 257.3L132.3 253.5M132.3 253.5l-3.8 4.1M166.4 257.3L151.6 252.9M151.6 252.9l-3.9 4.0M185.5 257.3L170.0 257.9M170.0 257.9l-2.4 5.0M204.6 257.3L190.1 262.7M190.1 262.7l-0.7 5.6M223.6 257.3L208.2 258.0M208.2 258.0l-2.4 5.1M242.7 257.3L241.3 241.9M241.3 241.9l-5.2 -2.2M261.8 257.3L260.0 241.9M260.2 243.7l-2.8 -1.1M280.9 257.3L278.2 242.0M278.5 243.8l-2.8 -0.9M299.9 257.3L302.2 242.0M301.9 243.8l-2.4 -1.8M319.0 257.3L332.4 249.6M332.4 249.6l-0.2 -5.6M338.1 257.3L352.0 250.5M352.0 250.5l0.2 -5.6M357.2 257.3L372.0 253.0M372.0 253.0l1.1 -5.5M376.2 257.3L391.6 255.6M391.6 255.6l2.1 -5.2M388.6 255.9l1.1 -2.8M395.3 257.3L410.6 254.8M410.6 254.8l1.8 -5.3M407.6 255.3l1.0 -2.8M414.4 257.3L429.5 253.7M429.5 253.7l1.4 -5.4M433.4 257.3L448.5 253.6M448.5 253.6l1.4 -5.4M445.6 254.3l0.7 -2.9M452.5 257.3L467.7 254.0M467.7 254.0l1.5 -5.4M464.7 254.6l1.5 -5.4M471.6 257.3L486.3 252.4M486.3 252.4l0.9 -5.5M483.5 253.4l0.5 -3.0M490.7 257.3L504.7 250.8M504.7 250.8l0.3 -5.6M502.0 252.0l0.2 -3.0M509.7 257.3L524.2 251.6M524.2 251.6l0.6 -5.6M521.4 252.7l0.3 -3.0M528.8 257.3L543.7 253.2M543.7 253.2l1.2 -5.5M540.8 254.0l1.2 -5.5M547.9 257.3L562.8 253.3M562.8 253.3l1.2 -5.5M559.9 254.0l1.2 -5.5M567.0 257.3L581.8 252.9M581.8 252.9l1.1 -5.5M578.9 253.8l1.1 -5.5M586.0 257.3L600.9 253.1M600.9 253.1l1.2 -5.5M598.0 253.9l1.2 -5.5M605.1 257.3L620.1 253.3M620.1 253.3l1.3 -5.5M617.2 254.1l1.3 -5.5M624.2 257.3L639.1 253.3M639.1 253.3l1.2 -5.5M636.2 254.0l1.2 -5.5M643.2 257.3L658.1 253.0M658.1 253.0l1.1 -5.5M655.2 253.8l1.1 -5.5M43.1 272.9L35.4 286.4M35.4 286.4l3.0 4.7M62.1 272.9L54.9 286.7M54.9 286.7l3.2 4.6M81.1 272.9L75.3 287.3M75.3 287.3l3.6 4.3M100.1 272.9L93.9 287.1M93.9 287.1l3.5 4.4M119.2 272.9L107.6 283.3M107.6 283.3l1.3 5.4M138.2 272.9L122.7 272.5M122.7 272.5l-2.8 4.9M157.2 272.9L143.3 266.0M143.3 266.0l-4.6 3.3M176.2 272.9L162.6 265.6M162.6 265.6l-4.6 3.1M195.3 272.9L180.1 269.5M180.1 269.5l-3.7 4.2M214.3 272.9L201.4 264.4M201.4 264.4l-4.9 2.7M233.3 272.9L231.2 257.6M231.2 257.6l-5.3 -1.9M252.3 272.9L251.6 257.4M251.7 259.2l-2.7 -1.3M271.4 272.9L269.4 257.6M269.6 259.3l-2.8 -1.1M290.4 272.9L289.1 257.5M289.2 259.3l-2.8 -1.2M309.4 272.9L312.9 257.8M312.5 259.6l-2.3 -2.0M328.4 272.9L334.9 258.8M334.9 258.8l-3.4 -4.5M347.5 272.9L358.5 262.1M358.5 262.1l-1.6 -5.4M366.5 272.9L381.5 269.2M381.5 269.2l1.4 -5.4M385.5 272.9L400.8 270.4M400.8 270.4l1.8 -5.3M404.5 272.9L419.8 270.3M419.8 270.3l1.7 -5.3M423.5 272.9L438.8 270.0M438.8 270.0l1.6 -5.4M442.6 272.9L457.5 268.9M457.5 268.9l1.3 -5.5M454.6 269.7l0.7 -2.9M461.6 272.9L476.0 267.2M476.0 267.2l0.6 -5.6M473.2 268.3l0.3 -3.0M480.6 272.9L493.3 264.1M493.3 264.1l-0.7 -5.6M490.9 265.8l-0.4 -3.0M499.6 272.9L512.6 264.5M512.6 264.5l-0.5 -5.6M510.1 266.1l-0.3 -3.0M518.7 272.9L533.1 267.3M533.1 267.3l0.6 -5.6M530.3 268.4l0.6 -5.6M537.7 272.9L552.6 268.7M552.6 268.7l1.2 -5.5M549.7 269.5l1.2 -5.5M556.7 272.9L571.6 268.7M571.6 268.7l1.2 -5.5M568.7 269.5l1.2 -5.5M575.7 272.9L590.6 268.7M590.6 268.7l1.2 -5.5M587.8 269.5l1.2 -5.5M594.8 272.9L609.7 268.8M609.7 268.8l1.2 -5.5M606.8 269.6l1.2 -5.5M613.8 272.9L628.8 268.9M628.8 268.9l1.2 -5.5M625.9 269.7l1.2 -5.5M632.8 272.9L647.7 268.7M647.7 268.7l1.2 -5.5M644.8 269.5l1.2 -5.5M53.7 288.6L47.2 302.6M47.2 302.6l3.4 4.5M72.7 288.6L67.9 303.3M67.9 303.3l3.9 4.0M91.7 288.6L89.0 303.9M89.0 303.9l4.4 3.4M110.7 288.6L107.0 303.7M107.0 303.7l4.2 3.7M129.6 288.6L118.5 299.3M118.5 299.3l1.5 5.4M148.6 288.6L133.8 284.2M133.8 284.2l-3.9 4.0M167.6 288.6L155.7 278.7M155.7 278.7l-5.2 2.1M186.6 288.6L175.2 278.1M175.2 278.1l-5.3 1.8M205.5 288.6L197.6 275.3M197.6 275.3l-5.6 0.3M224.5 288.6L222.0 273.3M222.0 273.3l-5.3 -1.8M243.5 288.6L243.1 273.1M243.2 274.9l-2.7 -1.3M262.5 288.6L262.4 273.1M262.4 274.9l-2.7 -1.4M281.4 288.6L281.6 273.1M281.6 274.9l-2.6 -1.4M300.4 288.6L301.0 273.1M300.9 274.9l-2.6 -1.5M319.4 288.6L318.8 273.1M318.9 274.9l-2.7 -1.3M338.4 288.6L340.1 273.2M339.9 275.0l-2.5 -1.7M357.3 288.6L365.0 275.1M364.1 276.7l-1.6 -2.5M376.3 288.6L391.7 287.0M391.7 287.0l2.1 -5.2M395.3 288.6L410.7 286.8M410.7 286.8l2.0 -5.2M414.3 288.6L429.7 286.8M429.7 286.8l2.0 -5.2M433.3 288.6L448.5 285.7M448.5 285.7l1.7 -5.3M452.2 288.6L467.1 284.3M467.1 284.3l1.2 -5.5M471.2 288.6L481.7 277.2M481.7 277.2l-1.8 -5.3M479.7 279.4l-1.0 -2.8M490.2 288.6L499.6 276.3M499.6 276.3l-2.3 -5.1M497.8 278.7l-1.2 -2.7M509.2 288.6L521.6 279.4M521.6 279.4l-0.8 -5.5M519.2 281.2l-0.4 -3.0M528.1 288.6L542.4 282.6M542.4 282.6l0.5 -5.6M539.7 283.8l0.5 -5.6M547.1 288.6L562.1 284.6M562.1 284.6l1.3 -5.5M559.2 285.4l1.3 -5.5M566.1 288.6L581.2 285.1M581.2 285.1l1.4 -5.4M578.3 285.8l1.4 -5.4M585.1 288.6L600.1 284.7M600.1 284.7l1.3 -5.4M597.2 285.4l1.3 -5.4M604.0 288.6L619.1 284.8M619.1 284.8l1.3 -5.4M616.2 285.5l1.3 -5.4M623.0 288.6L638.0 284.5M638.0 284.5l1.2 -5.5M635.1 285.3l1.2 -5.5M642.0 288.6L656.8 284.1M656.8 284.1l1.1 -5.5M653.9 285.0l1.1 -5.5M44.8 304.3L39.5 318.9M39.5 318.9l3.7 4.2M63.7 304.3L59.6 319.2M59.6 319.2l4.1 3.9M82.7 304.3L81.2 319.7M81.2 319.7l4.7 3.1M101.6 304.3L102.3 319.8M102.3 319.8l5.1 2.4M120.5 304.3L120.3 319.8M120.3 319.8l4.9 2.7M139.4 304.3L129.9 316.5M129.9 316.5l2.3 5.1M158.4 304.3L145.8 295.2M145.8 295.2l-5.0 2.5M177.3 304.3L168.1 291.8M168.1 291.8l-5.5 0.8M196.2 304.3L189.2 290.5M189.2 290.5l-5.6 -0.1M215.2 304.3L211.2 289.3M211.2 289.3l-5.5 -1.3M234.1 304.3L232.5 288.9M232.7 290.7l-2.8 -1.1M253.0 304.3L252.3 288.8M252.4 290.6l-2.7 -1.3M271.9 304.3L272.1 288.8M272.1 290.6l-2.6 -1.4M290.9 304.3L291.4 288.8M291.4 290.6l-2.6 -1.5M309.8 304.3L308.9 288.8M309.0 290.6l-2.7 -1.3M328.7 304.3L328.0 288.8M328.1 290.6l-2.7 -1.3M347.6 304.3L346.8 288.8M346.9 290.6l-2.7 -1.3M366.6 304.3L378.4 294.3M378.4 294.3l-1.2 -5.5M385.5 304.3L399.9 298.5M399.9 298.5l0.6 -5.6M404.4 304.3L419.3 300.0M419.3 300.0l1.2 -5.5M423.4 304.3L438.5 300.9M438.5 300.9l1.5 -5.4M442.3 304.3L457.5 301.4M457.5 301.4l1.7 -5.3M461.2 304.3L475.2 297.7M475.2 297.7l0.3 -5.6M480.1 304.3L488.1 291.0M488.1 291.0l-2.9 -4.8M486.6 293.6l-1.5 -2.6M499.1 304.3L509.0 292.4M509.0 292.4l-2.1 -5.2M507.1 294.7l-1.1 -2.8M518.0 304.3L530.8 295.6M530.8 295.6l-0.6 -5.6M528.3 297.3l-0.3 -3.0M536.9 304.3L551.4 298.9M551.4 298.9l0.7 -5.6M548.6 299.9l0.7 -5.6M555.8 304.3L571.0 301.0M571.0 301.0l1.5 -5.4M568.1 301.6l1.5 -5.4M574.8 304.3L589.8 300.7M589.8 300.7l1.4 -5.4M586.9 301.4l1.4 -5.4M593.7 304.3L608.8 301.0M608.8 301.0l1.5 -5.4M605.9 301.6l1.5 -5.4M612.6 304.3L627.7 300.9M627.7 300.9l1.5 -5.4M624.8 301.5l1.5 -5.4M631.6 304.3L646.5 300.2M646.5 300.2l1.2 -5.5M643.6 301.0l1.2 -5.5M650.5 304.3L665.2 299.5M665.2 299.5l1.0 -5.5M662.4 300.5l0.5 -3.0M55.5 320.1L52.3 335.2M52.3 335.2l4.3 3.6M74.4 320.1L73.2 335.5M73.2 335.5l4.7 3.0M93.2 320.1L95.0 335.5M95.0 335.5l5.2 2.1M112.1 320.1L115.9 335.1M115.9 335.1l5.4 1.4M131.0 320.1L134.9 335.1M134.9 335.1l5.5 1.3M149.9 320.1L147.0 335.3M147.0 335.3l4.4 3.5M168.7 320.1L161.4 306.4M161.4 306.4l-5.6 0.0M187.6 320.1L181.5 305.8M181.5 305.8l-5.6 -0.5M206.5 320.1L201.8 305.3M201.8 305.3l-5.5 -1.0M225.4 320.1L222.5 304.8M222.9 306.6l-2.9 -0.9M244.3 320.1L242.6 304.7M242.8 306.5l-2.8 -1.1M263.1 320.1L262.0 304.6M262.2 306.4l-2.7 -1.2M282.0 320.1L281.7 304.6M281.7 306.4l-2.7 -1.4M300.9 320.1L300.8 304.6M300.8 306.4l-2.7 -1.4M319.8 320.1L320.2 304.6M320.1 306.4l-2.6 -1.5M338.7 320.1L341.4 304.8M341.1 306.6l-2.4 -1.9M357.5 320.1L365.1 306.6M365.1 306.6l-3.0 -4.7M376.4 320.1L389.2 311.3M389.2 311.3l-0.6 -5.6M395.3 320.1L407.3 310.3M407.3 310.3l-1.1 -5.5M414.2 320.1L428.7 314.6M428.7 314.6l0.7 -5.6M433.1 320.1L447.1 313.6M447.1 313.6l0.3 -5.6M451.9 320.1L466.2 313.9M466.2 313.9l0.5 -5.6M470.8 320.1L483.0 310.4M483.0 310.4l-1.0 -5.5M489.7 320.1L499.2 307.9M499.2 307.9l-2.3 -5.1M497.4 310.2l-1.2 -2.7M508.6 320.1L518.6 308.2M518.6 308.2l-2.1 -5.2M516.7 310.5l-1.1 -2.8M527.5 320.1L541.4 313.3M541.4 313.3l0.2 -5.6M538.7 314.6l0.2 -5.6M546.3 320.1L560.9 314.7M560.9 314.7l0.7 -5.6M558.0 315.7l0.7 -5.6M565.2 320.1L580.0 315.5M580.0 315.5l1.0 -5.5M577.1 316.4l1.0 -5.5M584.1 320.1L599.1 316.2M599.1 316.2l1.3 -5.4M596.2 316.9l1.3 -5.4M603.0 320.1L618.1 316.7M618.1 316.7l1.5 -5.4M615.2 317.4l1.5 -5.4M621.9 320.1L636.9 316.5M636.9 316.5l1.4 -5.4M634.0 317.2l0.8 -2.9M640.7 320.1L655.6 315.7M655.6 315.7l1.1 -5.5M652.7 316.5l0.6 -2.9M46.5 335.9L43.9 351.2M43.9 351.2l4.4 3.4M65.4 335.9L63.9 351.3M63.9 351.3l4.7 3.1M84.2 335.9L84.9 351.4M84.9 351.4l5.1 2.4M103.0 335.9L106.9 350.9M106.9 350.9l5.4 1.3M121.9 335.9L128.3 350.0M128.3 350.0l5.6 0.4M140.7 335.9L149.1 348.9M149.1 348.9l5.6 -0.5M159.5 335.9L174.9 337.4M174.9 337.4l3.1 -4.7M178.4 335.9L177.1 320.4M177.1 320.4l-5.1 -2.2M197.2 335.9L194.0 320.7M194.0 320.7l-5.4 -1.6M216.0 335.9L213.2 320.6M213.6 322.4l-2.9 -0.9M234.9 335.9L232.7 320.5M232.9 322.3l-2.8 -1.0M253.7 335.9L252.1 320.5M252.3 322.2l-2.8 -1.1M272.5 335.9L271.4 320.4M271.5 322.2l-2.7 -1.2M291.3 335.9L289.3 320.5M289.6 322.3l-2.8 -1.1M310.2 335.9L308.6 320.5M308.8 322.2l-2.8 -1.1M329.0 335.9L331.1 320.5M330.8 322.3l-2.4 -1.7M347.8 335.9L354.6 321.9M354.6 321.9l-3.3 -4.5M366.7 335.9L377.0 324.4M377.0 324.4l-1.9 -5.3M385.5 335.9L396.3 324.7M396.3 324.7l-1.7 -5.3M404.3 335.9L414.5 324.2M414.5 324.2l-2.0 -5.2M423.2 335.9L437.0 328.9M437.0 328.9l0.1 -5.6M442.0 335.9L455.4 328.1M455.4 328.1l-0.2 -5.6M460.8 335.9L473.9 327.6M473.9 327.6l-0.4 -5.6M479.7 335.9L489.6 324.0M489.6 324.0l-2.1 -5.2M487.6 326.3l-1.1 -2.8M498.5 335.9L505.2 321.9M505.2 321.9l-3.3 -4.5M503.9 324.6l-1.8 -2.4M517.3 335.9L527.3 324.0M527.3 324.0l-2.1 -5.2M525.4 326.3l-1.1 -2.8M536.1 335.9L550.6 330.3M550.6 330.3l0.7 -5.6M547.8 331.4l0.7 -5.6M555.0 335.9L569.3 329.9M569.3 329.9l0.5 -5.6M566.5 331.1l0.5 -5.6M573.8 335.9L588.2 330.1M588.2 330.1l0.6 -5.6M585.4 331.2l0.3 -3.0M592.6 335.9L607.6 331.9M607.6 331.9l1.3 -5.5M604.7 332.7l0.7 -2.9M611.5 335.9L626.7 333.1M626.7 333.1l1.7 -5.3M623.8 333.6l0.9 -2.9M630.3 335.9L645.3 332.1M645.3 332.1l1.4 -5.4M642.4 332.9l0.7 -2.9M649.1 335.9L663.8 330.8M663.8 330.8l0.9 -5.5M660.9 331.8l0.5 -3.0M57.2 351.7L55.6 367.1M55.6 367.1l4.6 3.1M76.0 351.7L75.3 367.2M75.3 367.2l4.8 2.8M94.8 351.7L96.6 367.1M96.6 367.1l5.2 2.0M113.6 351.7L119.1 366.2M119.1 366.2l5.6 0.7M132.3 351.7L141.1 364.5M141.1 364.5l5.6 -0.6M151.1 351.7L163.4 361.2M163.4 361.2l5.1 -2.3M169.9 351.7L184.6 346.8M184.6 346.8l0.9 -5.5M188.7 351.7L191.8 336.5M191.8 336.5l-4.3 -3.6M207.5 351.7L207.0 336.2M207.0 336.2l-5.0 -2.5M226.3 351.7L225.4 336.3M225.5 338.1l-2.7 -1.3M245.0 351.7L243.8 336.3M243.9 338.1l-2.8 -1.2M263.8 351.7L262.5 336.3M262.7 338.1l-2.8 -1.2M282.6 351.7L280.4 336.4M280.7 338.2l-2.8 -1.0M301.4 351.7L298.7 336.5M299.0 338.2l-2.9 -0.9M320.2 351.7L318.8 336.3M318.9 338.1l-2.8 -1.2M339.0 351.7L341.3 336.4M341.3 336.4l-4.5 -3.4M357.7 351.7L364.5 337.8M364.5 337.8l-3.3 -4.5M376.5 351.7L385.7 339.2M385.7 339.2l-2.4 -5.0M395.3 351.7L404.4 339.2M404.4 339.2l-2.5 -5.0M414.1 351.7L424.7 340.5M424.7 340.5l-1.8 -5.3M432.9 351.7L441.3 338.7M441.3 338.7l-2.7 -4.9M451.6 351.7L463.4 341.7M463.4 341.7l-1.2 -5.5M470.4 351.7L480.8 340.2M480.8 340.2l-1.9 -5.3M489.2 351.7L497.0 338.3M497.0 338.3l-2.9 -4.8M495.5 340.9l-1.6 -2.6M508.0 351.7L515.7 338.3M515.7 338.3l-3.0 -4.7M514.2 340.9l-1.6 -2.5M526.8 351.7L537.0 340.0M537.0 340.0l-2.0 -5.2M535.0 342.3l-1.1 -2.8M545.6 351.7L558.5 343.2M558.5 343.2l-0.5 -5.6M556.0 344.9l-0.3 -3.0M564.3 351.7L577.7 343.9M577.7 343.9l-0.2 -5.6M575.1 345.4l-0.1 -3.0M583.1 351.7L596.8 344.4M596.8 344.4l-0.0 -5.6M594.1 345.8l-0.0 -3.0M601.9 351.7L616.5 346.4M616.5 346.4l0.8 -5.5M613.6 347.4l0.4 -3.0M620.7 351.7L635.6 347.5M635.6 347.5l1.2 -5.5M632.7 348.3l0.6 -2.9M639.5 351.7L654.0 346.3M654.0 346.3l0.7 -5.6M651.2 347.4l0.4 -3.0M48.3 367.6L46.2 383.0M46.2 383.0l4.5 3.3M67.0 367.6L65.6 383.1M65.6 383.1l4.7 3.1M85.7 367.6L85.2 383.1M85.2 383.1l4.8 2.8M104.5 367.6L106.7 383.0M106.7 383.0l5.3 1.9M123.2 367.6L129.9 381.6M129.9 381.6l5.6 0.2M142.0 367.6L152.6 378.9M152.6 378.9l5.4 -1.5M160.7 367.6L175.1 373.5M175.1 373.5l4.3 -3.6M179.4 367.6L193.6 361.5M193.6 361.5l0.4 -5.6M198.2 367.6L204.0 353.3M204.0 353.3l-3.6 -4.3M216.9 367.6L218.6 352.2M218.4 354.0l-2.5 -1.7M235.6 367.6L235.7 352.1M235.7 353.9l-2.6 -1.4M254.4 367.6L253.1 352.2M253.2 354.0l-2.8 -1.2M273.1 367.6L271.2 352.3M271.4 354.0l-2.8 -1.1M291.8 367.6L289.4 352.3M289.7 354.1l-2.8 -1.0M310.6 367.6L308.2 352.3M308.5 354.1l-2.8 -1.0M329.3 367.6L326.9 352.3M326.9 352.3l-5.3 -1.8M348.0 367.6L345.1 352.4M345.1 352.4l-5.4 -1.6M366.8 367.6L369.9 352.5M369.9 352.5l-4.3 -3.6M385.5 367.6L393.2 354.2M393.2 354.2l-3.0 -4.7M404.2 367.6L412.4 354.5M412.4 354.5l-2.8 -4.8M423.0 367.6L431.3 354.5M431.3 354.5l-2.8 -4.9M441.7 367.6L449.6 354.3M449.6 354.3l-2.9 -4.8M460.4 367.6L466.7 353.5M466.7 353.5l-3.5 -4.4M479.2 367.6L486.6 354.0M486.6 354.0l-3.1 -4.7M497.9 367.6L506.0 354.4M506.0 354.4l-2.8 -4.8M504.4 357.0l-1.5 -2.6M516.6 367.6L524.4 354.2M524.4 354.2l-2.9 -4.8M522.9 356.8l-1.6 -2.6M535.4 367.6L544.3 354.9M544.3 354.9l-2.5 -5.0M542.5 357.4l-1.4 -2.7M554.1 367.6L565.7 357.3M565.7 357.3l-1.3 -5.4M563.4 359.3l-0.7 -2.9M572.8 367.6L585.3 358.5M585.3 358.5l-0.8 -5.5M582.9 360.2l-0.4 -3.0M591.6 367.6L603.6 357.9M603.6 357.9l-1.1 -5.5M601.3 359.8l-0.6 -2.9M610.3 367.6L622.6 358.1M622.6 358.1l-1.0 -5.5M620.2 360.0l-0.5 -3.0M629.0 367.6L642.6 360.2M642.6 360.2l-0.1 -5.6M640.0 361.6l-0.0 -3.0M647.8 367.6L661.5 360.5M661.5 360.5l0.0 -5.6M658.9 361.9l0.0 -3.0M58.9 383.6L56.9 399.0M56.9 399.0l4.6 3.3M77.6 383.6L76.1 399.0M76.1 399.0l4.7 3.1M96.3 383.6L95.7 399.1M95.7 399.1l4.8 2.8M115.0 383.6L117.7 398.9M117.7 398.9l5.3 1.7M133.7 383.6L141.6 396.9M141.6 396.9l5.6 -0.3M152.4 383.6L166.0 391.0M166.0 391.0l4.7 -3.1M171.1 383.6L186.5 385.5M186.5 385.5l3.2 -4.6M189.8 383.6L203.2 375.9M203.2 375.9l-0.2 -5.6M208.4 383.6L215.2 369.7M215.2 369.7l-3.3 -4.5M227.1 383.6L229.5 368.3M229.2 370.0l-2.4 -1.8M245.8 383.6L244.6 368.1M244.8 369.9l-2.7 -1.2M264.5 383.6L262.3 368.3M262.5 370.0l-2.8 -1.0M283.2 383.6L280.1 368.4M280.5 370.2l-2.9 -0.9M301.9 383.6L298.3 368.5M298.7 370.3l-2.9 -0.8M320.6 383.6L316.3 368.7M316.3 368.7l-5.5 -1.2M339.2 383.6L332.2 369.8M332.2 369.8l-5.6 -0.1M357.9 383.6L350.8 369.8M350.8 369.8l-5.6 -0.1M376.6 383.6L374.9 368.2M374.9 368.2l-5.2 -2.1M395.3 383.6L391.9 368.5M391.9 368.5l-5.4 -1.5M414.0 383.6L413.8 368.1M413.8 368.1l-5.0 -2.6M432.7 383.6L433.3 368.1M433.3 368.1l-4.8 -2.8M451.4 383.6L455.9 368.8M455.9 368.8l-4.0 -3.9M470.0 383.6L475.3 369.0M475.3 369.0l-3.8 -4.2M488.7 383.6L495.4 369.6M495.4 369.6l-3.3 -4.5M507.4 383.6L515.4 370.3M515.4 370.3l-2.9 -4.8M513.9 372.9l-1.5 -2.6M526.1 383.6L535.0 370.9M535.0 370.9l-2.5 -5.0M533.3 373.4l-1.4 -2.7M544.8 383.6L555.9 372.8M555.9 372.8l-1.5 -5.4M563.5 383.6L575.1 373.3M575.1 373.3l-1.3 -5.4M572.8 375.3l-0.7 -2.9M582.2 383.6L594.4 374.1M594.4 374.1l-1.0 -5.5M592.0 375.9l-0.5 -3.0M600.8 383.6L613.0 373.9M613.0 373.9l-1.0 -5.5M610.6 375.8l-0.6 -2.9M619.5 383.6L632.1 374.6M632.1 374.6l-0.7 -5.6M629.7 376.3l-0.4 -3.0M638.2 383.6L651.3 375.2M651.3 375.2l-0.5 -5.6M648.7 376.8l-0.2 -3.0M50.0 399.6L46.7 414.7M46.7 414.7l4.3 3.6M68.7 399.6L66.7 415.0M66.7 415.0l4.6 3.2M87.3 399.6L86.0 415.0M86.0 415.0l4.7 3.0M105.9 399.6L105.3 415.1M105.3 415.1l4.8 2.8M124.6 399.6L128.4 414.6M128.4 414.6l5.4 1.3M143.2 399.6L152.2 412.2M152.2 412.2l5.6 -0.7M161.8 399.6L177.0 402.8M177.0 402.8l3.6 -4.3M180.5 399.6L195.9 398.4M195.9 398.4l2.2 -5.1M199.1 399.6L212.4 391.7M212.4 391.7l-0.3 -5.6M217.8 399.6L224.6 385.7M223.8 387.3l-1.8 -2.4M236.4 399.6L237.2 384.1M237.1 385.9l-2.6 -1.5M255.0 399.6L253.0 384.2M253.2 386.0l-2.8 -1.0M273.7 399.6L270.6 384.4M270.9 386.2l-2.9 -0.8M292.3 399.6L287.1 385.0M287.7 386.7l-3.0 -0.4M310.9 399.6L305.2 385.2M305.2 385.2l-5.6 -0.6M329.6 399.6L323.5 385.4M323.5 385.4l-5.6 -0.5M348.2 399.6L340.8 386.0M340.8 386.0l-5.6 0.1M366.9 399.6L360.7 385.4M360.7 385.4l-5.6 -0.4M385.5 399.6L378.8 385.6M378.8 385.6l-5.6 -0.2M404.1 399.6L396.5 386.1M396.5 386.1l-5.6 0.1M422.8 399.6L418.6 384.7M418.6 384.7l-5.5 -1.2M441.4 399.6L436.2 385.0M436.2 385.0l-5.5 -0.8M460.1 399.6L461.0 384.1M461.0 384.1l-4.8 -2.9M478.7 399.6L482.1 384.5M482.1 384.5l-4.2 -3.7M497.3 399.6L502.0 384.8M502.0 384.8l-3.9 -4.0M516.0 399.6L524.9 386.9M524.9 386.9l-2.5 -5.0M534.6 399.6L546.4 389.5M546.4 389.5l-1.2 -5.5M553.2 399.6L564.9 389.3M564.9 389.3l-1.3 -5.4M571.9 399.6L583.7 389.6M583.7 389.6l-1.2 -5.5M590.5 399.6L603.9 391.7M603.9 391.7l-0.2 -5.6M609.2 399.6L622.7 392.0M622.7 392.0l-0.1 -5.6M627.8 399.6L640.7 391.0M640.7 391.0l-0.6 -5.6M646.4 399.6L658.7 390.2M658.7 390.2l-0.9 -5.5M656.4 392.0l-0.5 -3.0M60.7 415.6L56.6 430.6M56.6 430.6l4.1 3.8M79.3 415.6L76.9 431.0M76.9 431.0l4.5 3.4M97.9 415.6L95.7 431.0M95.7 431.0l4.5 3.3M116.5 415.6L118.2 431.1M118.2 431.1l5.2 2.1M135.0 415.6L140.4 430.2M140.4 430.2l5.5 0.8M153.6 415.6L163.8 427.4M163.8 427.4l5.5 -1.3M172.2 415.6L187.7 414.2M187.7 414.2l2.2 -5.2M190.8 415.6L205.7 411.3M205.7 411.3l1.1 -5.5M209.4 415.6L220.2 404.5M220.2 404.5l-1.7 -5.3M228.0 415.6L233.4 401.1M232.8 402.8l-2.0 -2.2M246.6 415.6L247.4 400.2M247.3 402.0l-2.6 -1.5M265.2 415.6L262.7 400.3M263.0 402.1l-2.8 -1.0M283.8 415.6L278.8 400.9M279.4 402.7l-3.0 -0.5M302.4 415.6L294.9 402.1M294.9 402.1l-5.6 0.1M320.9 415.6L314.4 401.6M314.4 401.6l-5.6 -0.3M339.5 415.6L333.2 401.5M333.2 401.5l-5.6 -0.4M358.1 415.6L351.5 401.6M351.5 401.6l-5.6 -0.3M376.7 415.6L369.0 402.2M369.0 402.2l-5.6 0.2M395.3 415.6L386.7 402.8M386.7 402.8l-5.6 0.6M413.9 415.6L406.2 402.2M406.2 402.2l-5.6 0.2M432.5 415.6L427.6 400.9M427.6 400.9l-5.5 -0.9M451.1 415.6L447.4 400.6M447.4 400.6l-5.4 -1.4M469.7 415.6L467.5 400.3M467.5 400.3l-5.3 -1.9M488.2 415.6L481.9 401.5M481.9 401.5l-5.6 -0.4M506.8 415.6L501.4 401.1M501.4 401.1l-5.6 -0.7M525.4 415.6L533.9 402.6M533.9 402.6l-2.7 -4.9M544.0 415.6L555.1 404.8M555.1 404.8l-1.6 -5.4M562.6 415.6L573.0 404.1M573.0 404.1l-1.9 -5.3M581.2 415.6L594.6 407.9M594.6 407.9l-0.2 -5.6M599.8 415.6L614.3 410.2M614.3 410.2l0.7 -5.6M618.4 415.6L632.2 408.6M632.2 408.6l0.1 -5.6M637.0 415.6L648.5 405.3M648.5 405.3l-1.3 -5.4M51.8 431.7L42.3 444.1M42.3 444.1l2.3 5.1M70.3 431.7L63.1 445.5M63.1 445.5l3.2 4.6M88.8 431.7L85.5 446.9M85.5 446.9l4.3 3.6M107.4 431.7L104.8 447.0M104.8 447.0l4.4 3.4M125.9 431.7L129.7 446.8M129.7 446.8l5.4 1.4M144.5 431.7L149.9 446.3M149.9 446.3l5.6 0.7M163.0 431.7L172.9 443.7M172.9 443.7l5.5 -1.1M181.5 431.7L195.8 425.6M195.8 425.6l0.5 -5.6M200.1 431.7L212.5 422.4M212.5 422.4l-0.9 -5.5M218.6 431.7L225.7 418.0M224.9 419.6l-1.7 -2.5M237.2 431.7L239.6 416.4M239.3 418.2l-2.4 -1.8M255.7 431.7L254.1 416.3M254.3 418.1l-2.8 -1.1M274.3 431.7L270.3 416.8M270.8 418.5l-2.9 -0.7M292.8 431.7L287.1 417.3M287.8 419.0l-3.0 -0.3M311.3 431.7L304.5 417.8M304.5 417.8l-5.6 -0.2M329.9 431.7L323.0 417.8M323.0 417.8l-5.6 -0.2M348.4 431.7L340.7 418.3M340.7 418.3l-5.6 0.2M367.0 431.7L357.3 419.6M357.3 419.6l-5.5 1.0M385.5 431.7L372.1 424.0M372.1 424.0l-4.7 3.0M404.0 431.7L389.8 425.7M389.8 425.7l-4.3 3.5M422.6 431.7L411.5 420.9M411.5 420.9l-5.3 1.7M441.1 431.7L434.0 418.0M434.0 418.0l-5.6 -0.1M459.7 431.7L452.7 417.9M452.7 417.9l-5.6 -0.1M478.2 431.7L467.4 420.6M467.4 420.6l-5.4 1.5M496.7 431.7L483.5 423.7M483.5 423.7l-4.8 2.8M515.3 431.7L503.3 421.9M503.3 421.9l-5.2 2.2M533.8 431.7L532.2 416.3M532.2 416.3l-5.2 -2.1M552.4 431.7L553.7 416.3M553.7 416.3l-4.7 -3.0M570.9 431.7L574.0 416.6M574.0 416.6l-4.3 -3.6M589.5 431.7L600.3 420.6M600.3 420.6l-1.7 -5.3M608.0 431.7L619.7 421.6M619.7 421.6l-1.3 -5.5M626.5 431.7L633.0 417.6M633.0 417.6l-3.4 -4.4M645.1 431.7L650.8 417.3M650.8 417.3l-3.6 -4.3M43.9 447.9L29.7 454.1M29.7 454.1l-0.4 5.6M62.4 447.9L47.4 451.8M47.4 451.8l-1.3 5.4M80.9 447.9L65.5 449.3M65.5 449.3l-2.2 5.2M99.4 447.9L87.5 457.8M87.5 457.8l1.2 5.5M117.9 447.9L112.1 462.2M112.1 462.2l3.6 4.3M136.4 447.9L134.4 463.3M134.4 463.3l4.6 3.2M154.9 447.9L162.6 461.3M162.6 461.3l5.6 -0.2M191.9 447.9L201.4 435.6M201.4 435.6l-2.3 -5.1M210.4 447.9L217.6 434.2M217.6 434.2l-3.1 -4.6M228.9 447.9L229.4 432.4M229.3 434.2l-2.6 -1.5M247.4 447.9L246.2 432.4M246.3 434.2l-2.7 -1.2M265.8 447.9L259.1 433.9M259.9 435.5l-3.0 -0.1M284.3 447.9L277.8 433.8M278.6 435.5l-3.0 -0.2M302.8 447.9L296.2 433.9M297.0 435.5l-3.0 -0.1M321.3 447.9L313.5 434.5M313.5 434.5l-5.6 0.2M339.8 447.9L329.6 436.3M329.6 436.3l-5.4 1.3M358.3 447.9L346.8 437.5M346.8 437.5l-5.3 1.9M376.8 447.9L363.8 439.4M363.8 439.4l-4.9 2.7M395.3 447.9L380.9 442.2M380.9 442.2l-4.3 3.6M413.8 447.9L399.8 441.1M399.8 441.1l-4.5 3.3M432.3 447.9L420.5 437.9M420.5 437.9l-5.2 2.1M450.8 447.9L438.7 438.1M438.7 438.1l-5.2 2.2M469.3 447.9L457.7 437.6M457.7 437.6l-5.2 2.0M487.8 447.9L474.7 439.5M474.7 439.5l-4.9 2.7M506.3 447.9L493.0 439.9M493.0 439.9l-4.8 2.9M524.8 447.9L512.3 438.6M512.3 438.6l-5.1 2.4M543.2 447.9L529.2 441.3M529.2 441.3l-4.5 3.4M561.7 447.9L548.0 440.7M548.0 440.7l-4.6 3.2M580.2 447.9L566.9 439.9M566.9 439.9l-4.8 2.9M598.7 447.9L584.2 442.5M584.2 442.5l-4.2 3.7M617.2 447.9L603.6 440.5M603.6 440.5l-4.7 3.1M635.7 447.9L627.3 434.9M627.3 434.9l-5.6 0.5M53.5 464.1L38.0 463.6M38.0 463.6l-2.8 4.9M71.9 464.1L57.2 459.4M57.2 459.4l-4.0 3.9M90.4 464.1L76.3 457.6M76.3 457.6l-4.5 3.4M108.8 464.1L93.6 461.3M93.6 461.3l-3.5 4.4M127.3 464.1L111.8 462.6M111.8 462.6l-3.1 4.7M145.7 464.1L132.0 456.8M132.0 456.8l-4.6 3.1M164.2 464.1L149.0 460.7M149.0 460.7l-3.6 4.3M182.6 464.1L170.9 454.0M170.9 454.0l-5.2 2.0M201.1 464.1L188.0 455.8M188.0 455.8l-4.9 2.8M219.5 464.1L211.3 450.9M211.3 450.9l-5.6 0.4M237.9 464.1L227.0 453.1M227.0 453.1l-5.4 1.6M256.4 464.1L242.6 456.9M242.6 456.9l-4.6 3.2M274.8 464.1L267.2 450.6M268.1 452.2l-3.0 0.1M293.3 464.1L286.0 450.4M286.8 452.0l-3.0 0.0M311.7 464.1L302.8 451.4M302.8 451.4l-5.6 0.7M330.2 464.1L317.7 454.8M317.7 454.8l-5.1 2.4M348.6 464.1L334.5 457.7M334.5 457.7l-4.4 3.4M367.1 464.1L353.5 456.6M353.5 456.6l-4.7 3.1M385.5 464.1L372.3 456.0M372.3 456.0l-4.8 2.8M403.9 464.1L390.5 456.4M390.5 456.4l-4.7 3.0M422.4 464.1L409.5 455.4M409.5 455.4l-4.9 2.6M440.8 464.1L427.5 456.2M427.5 456.2l-4.8 2.9M459.3 464.1L446.0 456.1M446.0 456.1l-4.8 2.9M477.7 464.1L465.2 455.0M465.2 455.0l-5.0 2.5M496.2 464.1L483.5 455.1M483.5 455.1l-5.0 2.5M514.6 464.1L501.6 455.7M501.6 455.7l-4.9 2.7M533.1 464.1L518.1 459.9M518.1 459.9l-3.9 4.1M551.5 464.1L536.3 461.3M536.3 461.3l-3.5 4.4M569.9 464.1L555.1 459.6M555.1 459.6l-4.0 4.0M588.4 464.1L574.1 458.1M574.1 458.1l-4.3 3.5M606.8 464.1L592.5 458.2M592.5 458.2l-4.3 3.6M625.3 464.1L611.8 456.4M611.8 456.4l-4.7 3.0M643.7 464.1L633.0 452.9M633.0 452.9l-5.4 1.5M45.8 480.3L30.3 479.5M30.3 479.5l-2.9 4.8M33.3 479.6l-1.6 2.6M64.2 480.3L49.0 477.3M49.0 477.3l-3.6 4.3M51.9 477.9l-1.9 2.3M82.6 480.3L67.8 475.6M67.8 475.6l-4.0 3.9M101.0 480.3L85.8 476.9M85.8 476.9l-3.7 4.2M88.8 477.6l-2.0 2.3M119.4 480.3L104.0 477.9M104.0 477.9l-3.4 4.5M107.0 478.4l-1.8 2.4M137.7 480.3L123.4 474.5M123.4 474.5l-4.3 3.6M156.1 480.3L142.2 473.5M142.2 473.5l-4.5 3.3M174.5 480.3L160.8 473.2M160.8 473.2l-4.6 3.2M192.9 480.3L180.0 471.8M180.0 471.8l-4.9 2.7M211.3 480.3L199.1 470.8M199.1 470.8l-5.1 2.3M229.7 480.3L217.5 470.8M217.5 470.8l-5.1 2.3M248.1 480.3L234.1 473.7M234.1 473.7l-4.5 3.3M266.5 480.3L253.7 471.7M253.7 471.7l-4.9 2.6M284.9 480.3L274.5 468.9M274.5 468.9l-5.4 1.4M303.3 480.3L291.8 470.0M291.8 470.0l-5.3 1.9M321.7 480.3L308.8 471.7M308.8 471.7l-4.9 2.6M340.1 480.3L325.7 474.7M325.7 474.7l-4.2 3.7M358.5 480.3L344.0 474.9M344.0 474.9l-4.2 3.7M376.9 480.3L363.3 472.8M363.3 472.8l-4.7 3.1M395.3 480.3L382.6 471.4M382.6 471.4l-5.0 2.5M413.7 480.3L400.8 471.7M400.8 471.7l-4.9 2.7M432.1 480.3L418.6 472.6M418.6 472.6l-4.7 3.0M450.5 480.3L437.0 472.7M437.0 472.7l-4.7 3.0M468.9 480.3L455.5 472.6M455.5 472.6l-4.7 3.0M487.3 480.3L474.5 471.5M474.5 471.5l-5.0 2.6M505.7 480.3L492.9 471.5M492.9 471.5l-5.0 2.6M524.1 480.3L509.7 474.6M509.7 474.6l-4.3 3.6M542.5 480.3L527.3 477.3M527.3 477.3l-3.6 4.3M560.9 480.3L545.7 477.1M545.7 477.1l-3.6 4.3M579.3 480.3L564.5 475.7M564.5 475.7l-4.0 3.9M597.7 480.3L582.9 475.7M582.9 475.7l-4.0 3.9M616.1 480.3L601.4 475.2M601.4 475.2l-4.1 3.8M634.5 480.3L620.6 473.4M620.6 473.4l-4.6 3.3M55.2 496.6L39.8 494.9M39.8 494.9l-3.2 4.6M42.8 495.2l-1.7 2.5M73.6 496.6L58.2 494.5M58.2 494.5l-3.3 4.5M61.2 494.9l-1.8 2.4M91.9 496.6L76.5 495.2M76.5 495.2l-3.1 4.7M79.5 495.4l-3.1 4.7M110.3 496.6L94.8 495.1M94.8 495.1l-3.1 4.7M97.8 495.4l-3.1 4.7M128.6 496.6L113.3 494.5M113.3 494.5l-3.3 4.5M116.2 494.9l-1.8 2.4M147.0 496.6L131.6 494.9M131.6 494.9l-3.1 4.6M134.5 495.3l-3.1 4.6M165.3 496.6L150.1 493.8M150.1 493.8l-3.5 4.4M153.0 494.3l-1.9 2.3M183.7 496.6L169.9 489.5M169.9 489.5l-4.6 3.2M202.0 496.6L189.8 487.1M189.8 487.1l-5.1 2.3M220.4 496.6L208.8 486.3M208.8 486.3l-5.2 2.0M238.7 496.6L226.2 487.5M226.2 487.5l-5.0 2.5M257.1 496.6L244.2 487.9M244.2 487.9l-4.9 2.6M275.4 496.6L262.5 488.1M262.5 488.1l-4.9 2.7M293.8 496.6L279.2 491.3M279.2 491.3l-4.2 3.7M282.0 492.3l-2.2 2.0M312.1 496.6L297.7 491.0M297.7 491.0l-4.2 3.7M300.4 492.1l-2.3 2.0M330.5 496.6L316.6 489.8M316.6 489.8l-4.5 3.3M348.8 496.6L334.5 490.7M334.5 490.7l-4.3 3.6M367.2 496.6L353.2 489.9M353.2 489.9l-4.5 3.3M385.5 496.6L372.6 488.0M372.6 488.0l-4.9 2.7M403.8 496.6L390.9 488.0M390.9 488.0l-4.9 2.7M422.2 496.6L408.1 490.2M408.1 490.2l-4.4 3.4M440.5 496.6L425.6 492.5M425.6 492.5l-3.8 4.1M428.5 493.3l-2.1 2.2M458.9 496.6L443.9 492.6M443.9 492.6l-3.8 4.1M446.8 493.4l-2.0 2.2M477.2 496.6L463.0 490.4M463.0 490.4l-4.4 3.5M465.8 491.6l-2.4 1.9M495.6 496.6L482.5 488.4M482.5 488.4l-4.9 2.8M513.9 496.6L500.6 488.7M500.6 488.7l-4.8 2.9M532.3 496.6L517.8 491.2M517.8 491.2l-4.2 3.7M550.6 496.6L535.7 492.5M535.7 492.5l-3.9 4.1M569.0 496.6L554.0 492.8M554.0 492.8l-3.8 4.1M587.3 496.6L572.0 494.5M572.0 494.5l-3.3 4.5M574.9 494.9l-1.8 2.4M605.7 496.6L590.3 494.9M590.3 494.9l-3.2 4.6M593.3 495.2l-1.7 2.5M624.0 496.6L608.8 493.7M608.8 493.7l-3.5 4.4M611.8 494.3l-1.9 2.3M642.4 496.6L627.9 491.1M627.9 491.1l-4.2 3.7M630.7 492.1l-2.3 2.0M47.6 513.0L32.2 511.5M32.2 511.5l-3.1 4.7M35.2 511.8l-1.7 2.5M65.9 513.0L50.5 511.3M50.5 511.3l-3.1 4.6M53.5 511.6l-1.7 2.5M84.2 513.0L68.8 511.4M68.8 511.4l-3.1 4.7M71.8 511.7l-3.1 4.7M102.5 513.0L87.1 511.6M87.1 511.6l-3.1 4.7M90.1 511.8l-3.1 4.7M120.8 513.0L105.4 511.5M105.4 511.5l-3.1 4.7M108.4 511.8l-3.1 4.7M139.1 513.0L123.7 511.4M123.7 511.4l-3.1 4.6M126.7 511.7l-3.1 4.6M157.4 513.0L142.0 511.4M142.0 511.4l-3.1 4.7M145.0 511.7l-3.1 4.7M175.7 513.0L160.7 509.1M160.7 509.1l-3.8 4.1M163.6 509.9l-2.0 2.2M194.0 513.0L180.7 505.0M180.7 505.0l-4.8 2.9M212.3 513.0L200.5 502.9M200.5 502.9l-5.2 2.1M230.6 513.0L219.0 502.7M219.0 502.7l-5.2 2.0M248.9 513.0L236.8 503.3M236.8 503.3l-5.1 2.2M267.2 513.0L254.1 504.6M254.1 504.6l-4.9 2.8M285.5 513.0L270.8 508.1M270.8 508.1l-4.0 3.9M273.6 509.0l-2.2 2.1M303.8 513.0L288.8 508.9M288.8 508.9l-3.8 4.1M291.7 509.7l-2.1 2.2M322.1 513.0L307.7 507.3M307.7 507.3l-4.2 3.7M310.5 508.4l-2.3 2.0M340.4 513.0L326.7 505.6M326.7 505.6l-4.7 3.1M358.7 513.0L345.3 505.2M345.3 505.2l-4.7 3.0M377.0 513.0L364.2 504.3M364.2 504.3l-4.9 2.6M395.3 513.0L382.6 504.1M382.6 504.1l-5.0 2.6M413.6 513.0L399.6 506.3M399.6 506.3l-4.5 3.3M431.9 513.0L416.8 509.3M416.8 509.3l-3.7 4.2M419.7 510.0l-2.0 2.2M450.2 513.0L434.9 510.2M434.9 510.2l-3.5 4.4M437.9 510.8l-1.9 2.4M468.5 513.0L453.4 509.3M453.4 509.3l-3.7 4.2M456.3 510.0l-2.0 2.2M486.8 513.0L472.7 506.6M472.7 506.6l-4.4 3.4M475.4 507.8l-2.4 1.8M505.1 513.0L492.0 504.7M492.0 504.7l-4.9 2.8M523.4 513.0L510.0 505.2M510.0 505.2l-4.7 3.0M541.7 513.0L527.5 506.8M527.5 506.8l-4.4 3.5M560.0 513.0L545.2 508.5M545.2 508.5l-3.9 4.0M578.3 513.0L563.0 510.8M563.0 510.8l-3.3 4.5M565.9 511.2l-1.8 2.4M596.6 513.0L581.2 511.6M581.2 511.6l-3.1 4.7M584.1 511.8l-1.6 2.5M614.9 513.0L599.5 511.4M599.5 511.4l-3.1 4.6M602.5 511.7l-1.7 2.5M633.2 513.0L618.0 509.9M618.0 509.9l-3.6 4.3M620.9 510.5l-1.9 2.3M57.0 529.3L41.6 527.7M41.6 527.7l-3.1 4.6M44.5 528.0l-1.7 2.5M75.2 529.3L59.8 527.7M59.8 527.7l-3.1 4.6M62.8 528.0l-3.1 4.6M93.5 529.3L78.0 527.9M78.0 527.9l-3.1 4.7M81.0 528.2l-3.1 4.7M111.7 529.3L96.3 528.0M96.3 528.0l-3.1 4.7M99.3 528.2l-3.1 4.7M130.0 529.3L114.6 527.7M114.6 527.7l-3.1 4.6M117.5 528.0l-3.1 4.6M148.2 529.3L132.9 527.3M132.9 527.3l-3.3 4.5M135.8 527.7l-3.3 4.5M166.5 529.3L151.3 526.3M151.3 526.3l-3.6 4.3M154.2 526.9l-1.9 2.3M184.7 529.3L170.4 523.4M170.4 523.4l-4.3 3.6M173.2 524.6l-2.3 1.9M203.0 529.3L190.3 520.5M190.3 520.5l-5.0 2.6M221.2 529.3L209.5 519.2M209.5 519.2l-5.2 2.0M239.5 529.3L227.8 519.1M227.8 519.1l-5.2 2.0M257.7 529.3L245.4 520.0M245.4 520.0l-5.1 2.3M276.0 529.3L262.2 522.2M262.2 522.2l-4.6 3.2M294.2 529.3L279.6 524.2M279.6 524.2l-4.1 3.8M282.4 525.2l-2.2 2.0M312.5 529.3L298.0 523.9M298.0 523.9l-4.2 3.7M300.8 525.0l-2.2 2.0M330.7 529.3L317.0 522.1M317.0 522.1l-4.6 3.1M349.0 529.3L336.1 520.8M336.1 520.8l-4.9 2.7M367.2 529.3L354.8 520.1M354.8 520.1l-5.1 2.4M385.5 529.3L373.2 519.9M373.2 519.9l-5.1 2.3M403.8 529.3L390.6 521.1M390.6 521.1l-4.9 2.8M422.0 529.3L407.6 523.7M407.6 523.7l-4.2 3.7M410.3 524.8l-2.3 2.0M440.3 529.3L425.2 525.7M425.2 525.7l-3.7 4.2M428.1 526.4l-2.0 2.2M458.5 529.3L443.4 525.8M443.4 525.8l-3.7 4.2M446.3 526.5l-2.0 2.3M476.8 529.3L462.1 524.2M462.1 524.2l-4.1 3.8M465.0 525.2l-2.2 2.0M495.0 529.3L481.5 521.8M481.5 521.8l-4.7 3.0M513.3 529.3L500.4 520.7M500.4 520.7l-4.9 2.6M531.5 529.3L518.2 521.3M518.2 521.3l-4.8 2.9M549.8 529.3L535.6 523.1M535.6 523.1l-4.4 3.5M568.0 529.3L553.0 525.5M553.0 525.5l-3.8 4.1M555.9 526.3l-2.0 2.2M586.3 529.3L570.9 527.3M570.9 527.3l-3.3 4.5M573.9 527.7l-1.8 2.4M604.5 529.3L589.1 527.6M589.1 527.6l-3.2 4.6M592.1 527.9l-1.7 2.5M622.8 529.3L607.5 526.9M607.5 526.9l-3.4 4.5M610.4 527.4l-1.8 2.4M641.0 529.3L626.1 525.0M626.1 525.0l-3.9 4.0M629.0 525.9l-2.1 2.2" stroke="#000" stroke-width="1.05" fill="none" stroke-linecap="square"/><polygon points="161.5,250.3 163.5,255.4 169.0,255.8 164.7,259.3 166.1,264.6 161.5,261.6 156.9,264.6 158.3,259.3 154.0,255.8 159.5,255.4" fill="none" stroke="#000" stroke-width="3.0" stroke-linejoin="round"/><polygon points="300.3,377.7 302.3,382.8 307.8,383.2 303.5,386.7 304.9,392.0 300.3,389.0 295.7,392.0 297.1,386.7 292.8,383.2 298.3,382.8" fill="none" stroke="#000" stroke-width="3.0" stroke-linejoin="round"/><circle cx="218.5" cy="196" r="2.1" fill="none" stroke="#000" stroke-width="1"/><circle cx="239.5" cy="196" r="2.1" fill="none" stroke="#000" stroke-width="1"/><circle cx="173" cy="449" r="2.1" fill="none" stroke="#000" stroke-width="1"/></g>
</g>
<rect x="72.0" y="51.0" width="558.5" height="478.5" fill="none" stroke="#000" stroke-width="3.5"/>
<path d="M72.0 49.5V33.5 M72.0 531.0V547.0 M103.9 49.5V41.5 M103.9 531.0V539.0 M135.8 49.5V41.5 M135.8 531.0V539.0 M167.6 49.5V41.5 M167.6 531.0V539.0 M199.5 49.5V41.5 M199.5 531.0V539.0 M231.4 49.5V33.5 M231.4 531.0V547.0 M263.3 49.5V41.5 M263.3 531.0V539.0 M295.2 49.5V41.5 M295.2 531.0V539.0 M327.0 49.5V41.5 M327.0 531.0V539.0 M358.9 49.5V41.5 M358.9 531.0V539.0 M390.8 49.5V33.5 M390.8 531.0V547.0 M422.7 49.5V41.5 M422.7 531.0V539.0 M454.6 49.5V41.5 M454.6 531.0V539.0 M486.4 49.5V41.5 M486.4 531.0V539.0 M518.3 49.5V41.5 M518.3 531.0V539.0 M550.2 49.5V33.5 M550.2 531.0V547.0 M582.1 49.5V41.5 M582.1 531.0V539.0 M614.0 49.5V41.5 M614.0 531.0V539.0 M70.5 67.4H62.5 M632.0 67.4H640.0 M70.5 99.2H62.5 M632.0 99.2H640.0 M70.5 131.0H54.5 M632.0 131.0H648.0 M70.5 162.8H62.5 M632.0 162.8H640.0 M70.5 194.6H62.5 M632.0 194.6H640.0 M70.5 226.4H62.5 M632.0 226.4H640.0 M70.5 258.2H62.5 M632.0 258.2H640.0 M70.5 290.0H54.5 M632.0 290.0H648.0 M70.5 321.8H62.5 M632.0 321.8H640.0 M70.5 353.6H62.5 M632.0 353.6H640.0 M70.5 385.4H62.5 M632.0 385.4H640.0 M70.5 417.2H62.5 M632.0 417.2H640.0 M70.5 449.0H54.5 M632.0 449.0H648.0" stroke="#000" stroke-width="3" fill="none"/>
<text x="69.85" y="21.80" style="font-size:30.23px;font-weight:bold" textLength="118.97" lengthAdjust="spacingAndGlyphs">Extinction</text>
<text x="195.57" y="21.80" style="font-size:30.23px;font-weight:bold" textLength="61.13" lengthAdjust="spacingAndGlyphs">WFA</text>
<text x="264.88" y="21.80" style="font-size:29.80px;font-weight:bold" textLength="85.13" lengthAdjust="spacingAndGlyphs">(1/Mm)</text>
<text x="445.95" y="21.60" style="font-size:28.36px;font-weight:bold" textLength="185.47" lengthAdjust="spacingAndGlyphs">2018-10-16_00</text>
<rect x="547" y="29" width="85" height="19.3" fill="#fff"/>
<text x="548.11" y="48.00" style="font-size:23.18px;font-weight:bold" textLength="81.45" lengthAdjust="spacingAndGlyphs">600 hPa</text>
<text x="48.12" y="578.80" style="font-size:24.06px;font-weight:bold" textLength="46.10" lengthAdjust="spacingAndGlyphs">20W</text>
<text x="208.64" y="578.80" style="font-size:24.06px;font-weight:bold" textLength="44.38" lengthAdjust="spacingAndGlyphs">10W</text>
<text x="384.35" y="578.80" style="font-size:24.06px;font-weight:bold" textLength="11.93" lengthAdjust="spacingAndGlyphs">0</text>
<text x="531.00" y="578.80" style="font-size:24.06px;font-weight:bold" textLength="39.57" lengthAdjust="spacingAndGlyphs">10E</text>
<text x="28.18" y="139.00" style="font-size:24.49px;font-weight:bold" textLength="12.98" lengthAdjust="spacingAndGlyphs">0</text>
<text x="2.33" y="299.00" style="font-size:24.49px;font-weight:bold" textLength="38.72" lengthAdjust="spacingAndGlyphs">10S</text>
<text x="1.02" y="458.40" style="font-size:24.78px;font-weight:bold" textLength="40.06" lengthAdjust="spacingAndGlyphs">20S</text>
<text x="114.14" y="667.30" style="font-size:24.92px;font-weight:bold" textLength="13.75" lengthAdjust="spacingAndGlyphs">2</text>
<text x="191.86" y="667.30" style="font-size:24.92px;font-weight:bold" textLength="25.37" lengthAdjust="spacingAndGlyphs">10</text>
<text x="275.28" y="667.30" style="font-size:24.92px;font-weight:bold" textLength="25.98" lengthAdjust="spacingAndGlyphs">50</text>
<text x="353.22" y="667.30" style="font-size:24.92px;font-weight:bold" textLength="37.71" lengthAdjust="spacingAndGlyphs">200</text>
<text x="437.15" y="667.30" style="font-size:24.92px;font-weight:bold" textLength="38.29" lengthAdjust="spacingAndGlyphs">400</text>
<text x="519.75" y="667.30" style="font-size:24.92px;font-weight:bold" textLength="38.70" lengthAdjust="spacingAndGlyphs">600</text>
<rect x="79.00" y="595.0" width="41.92" height="42.0" fill="#FFFFFF"/>
<rect x="120.92" y="595.0" width="41.92" height="42.0" fill="#AAAAFA"/>
<rect x="162.85" y="595.0" width="41.92" height="42.0" fill="#5858F8"/>
<rect x="204.77" y="595.0" width="41.92" height="42.0" fill="#0000FF"/>
<rect x="246.69" y="595.0" width="41.92" height="42.0" fill="#0033AA"/>
<rect x="288.62" y="595.0" width="41.92" height="42.0" fill="#007060"/>
<rect x="330.54" y="595.0" width="41.92" height="42.0" fill="#00AA1E"/>
<rect x="372.46" y="595.0" width="41.92" height="42.0" fill="#55CC0A"/>
<rect x="414.38" y="595.0" width="41.92" height="42.0" fill="#AAE000"/>
<rect x="456.31" y="595.0" width="41.92" height="42.0" fill="#F5FF00"/>
<rect x="498.23" y="595.0" width="41.92" height="42.0" fill="#FFB400"/>
<rect x="540.15" y="595.0" width="41.92" height="42.0" fill="#FF6000"/>
<rect x="582.08" y="595.0" width="41.92" height="42.0" fill="#FF0000"/>
<line x1="120.92" y1="595.0" x2="120.92" y2="637.0" stroke="#000" stroke-width="2"/>
<line x1="162.85" y1="595.0" x2="162.85" y2="637.0" stroke="#000" stroke-width="2"/>
<line x1="204.77" y1="595.0" x2="204.77" y2="637.0" stroke="#000" stroke-width="2"/>
<line x1="246.69" y1="595.0" x2="246.69" y2="637.0" stroke="#000" stroke-width="2"/>
<line x1="288.62" y1="595.0" x2="288.62" y2="637.0" stroke="#000" stroke-width="2"/>
<line x1="330.54" y1="595.0" x2="330.54" y2="637.0" stroke="#000" stroke-width="2"/>
<line x1="372.46" y1="595.0" x2="372.46" y2="637.0" stroke="#000" stroke-width="2"/>
<line x1="414.38" y1="595.0" x2="414.38" y2="637.0" stroke="#000" stroke-width="2"/>
<line x1="456.31" y1="595.0" x2="456.31" y2="637.0" stroke="#000" stroke-width="2"/>
<line x1="498.23" y1="595.0" x2="498.23" y2="637.0" stroke="#000" stroke-width="2"/>
<line x1="540.15" y1="595.0" x2="540.15" y2="637.0" stroke="#000" stroke-width="2"/>
<line x1="582.08" y1="595.0" x2="582.08" y2="637.0" stroke="#000" stroke-width="2"/>
<rect x="79.0" y="595.0" width="545.0" height="42.0" fill="none" stroke="#000" stroke-width="2.2"/>
<rect x="77.9" y="637.0" width="547.2" height="1.8" fill="#000"/>
</svg>
</body></html>
